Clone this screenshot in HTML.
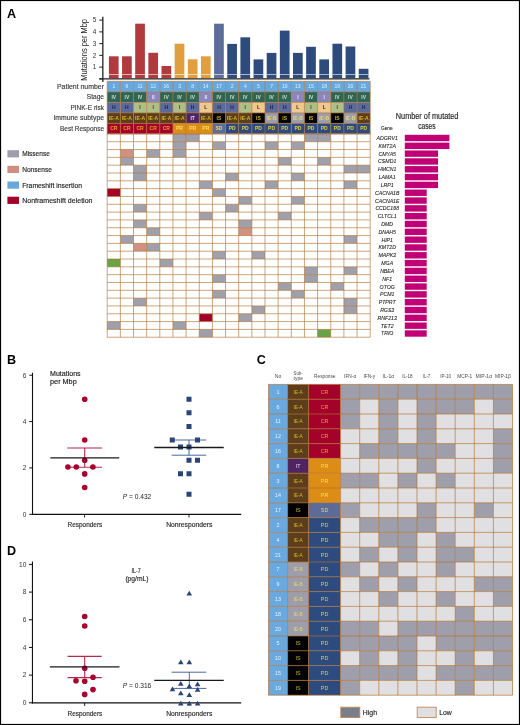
<!DOCTYPE html>
<html><head><meta charset="utf-8"><style>
html,body{margin:0;padding:0;background:#fff;}
#fig{position:relative;width:520px;height:725px;overflow:hidden;background:#fff;}
svg{display:block;will-change:transform;}
svg text{font-family:"Liberation Sans", sans-serif;}
</style></head><body><div id="fig">
<svg width="520" height="725" viewBox="0 0 520 725">
<rect x="0" y="0" width="520" height="725" fill="#fff"/>
<text x="7.00" y="17.80" font-size="12.6" fill="#000" text-anchor="start" font-weight="bold" >A</text>
<rect x="108.90" y="56.30" width="9.70" height="22.00" fill="#b03a3e" />
<rect x="122.05" y="56.30" width="9.70" height="22.00" fill="#b03a3e" />
<rect x="135.20" y="23.70" width="9.70" height="54.60" fill="#b03a3e" />
<rect x="148.35" y="52.80" width="9.70" height="25.50" fill="#b03a3e" />
<rect x="161.50" y="66.00" width="9.70" height="12.30" fill="#b03a3e" />
<rect x="174.65" y="43.70" width="9.70" height="34.60" fill="#e09e3e" />
<rect x="187.80" y="59.30" width="9.70" height="19.00" fill="#e09e3e" />
<rect x="200.95" y="56.30" width="9.70" height="22.00" fill="#e09e3e" />
<rect x="214.10" y="23.70" width="9.70" height="54.60" fill="#5d6c98" />
<rect x="227.25" y="43.90" width="9.70" height="34.40" fill="#2e4b7e" />
<rect x="240.40" y="37.30" width="9.70" height="41.00" fill="#2e4b7e" />
<rect x="253.55" y="59.40" width="9.70" height="18.90" fill="#2e4b7e" />
<rect x="266.70" y="52.90" width="9.70" height="25.40" fill="#2e4b7e" />
<rect x="279.85" y="30.60" width="9.70" height="47.70" fill="#2e4b7e" />
<rect x="293.00" y="52.90" width="9.70" height="25.40" fill="#2e4b7e" />
<rect x="306.15" y="46.80" width="9.70" height="31.50" fill="#2e4b7e" />
<rect x="319.30" y="59.40" width="9.70" height="18.90" fill="#2e4b7e" />
<rect x="332.45" y="43.70" width="9.70" height="34.60" fill="#2e4b7e" />
<rect x="345.60" y="46.50" width="9.70" height="31.80" fill="#2e4b7e" />
<rect x="358.75" y="68.80" width="9.70" height="9.50" fill="#2e4b7e" />
<rect x="108.90" y="74.20" width="9.70" height="0.80" fill="#ffffff" fill-opacity="0.75"/>
<rect x="122.05" y="74.20" width="9.70" height="0.80" fill="#ffffff" fill-opacity="0.75"/>
<rect x="135.20" y="74.20" width="9.70" height="0.80" fill="#ffffff" fill-opacity="0.75"/>
<rect x="148.35" y="74.20" width="9.70" height="0.80" fill="#ffffff" fill-opacity="0.75"/>
<rect x="161.50" y="74.20" width="9.70" height="0.80" fill="#ffffff" fill-opacity="0.75"/>
<rect x="174.65" y="74.20" width="9.70" height="0.80" fill="#ffffff" fill-opacity="0.75"/>
<rect x="187.80" y="74.20" width="9.70" height="0.80" fill="#ffffff" fill-opacity="0.75"/>
<rect x="200.95" y="74.20" width="9.70" height="0.80" fill="#ffffff" fill-opacity="0.75"/>
<rect x="214.10" y="74.20" width="9.70" height="0.80" fill="#ffffff" fill-opacity="0.75"/>
<rect x="227.25" y="74.20" width="9.70" height="0.80" fill="#ffffff" fill-opacity="0.75"/>
<rect x="240.40" y="74.20" width="9.70" height="0.80" fill="#ffffff" fill-opacity="0.75"/>
<rect x="253.55" y="74.20" width="9.70" height="0.80" fill="#ffffff" fill-opacity="0.75"/>
<rect x="266.70" y="74.20" width="9.70" height="0.80" fill="#ffffff" fill-opacity="0.75"/>
<rect x="279.85" y="74.20" width="9.70" height="0.80" fill="#ffffff" fill-opacity="0.75"/>
<rect x="293.00" y="74.20" width="9.70" height="0.80" fill="#ffffff" fill-opacity="0.75"/>
<rect x="306.15" y="74.20" width="9.70" height="0.80" fill="#ffffff" fill-opacity="0.75"/>
<rect x="319.30" y="74.20" width="9.70" height="0.80" fill="#ffffff" fill-opacity="0.75"/>
<rect x="332.45" y="74.20" width="9.70" height="0.80" fill="#ffffff" fill-opacity="0.75"/>
<rect x="345.60" y="74.20" width="9.70" height="0.80" fill="#ffffff" fill-opacity="0.75"/>
<rect x="358.75" y="74.20" width="9.70" height="0.80" fill="#ffffff" fill-opacity="0.75"/>
<line x1="102.85" y1="16.80" x2="102.85" y2="82.00" stroke="#111" stroke-width="1.2" />
<line x1="99.30" y1="78.80" x2="369.50" y2="78.80" stroke="#222" stroke-width="1.3" />
<line x1="99.30" y1="78.90" x2="103.00" y2="78.90" stroke="#222" stroke-width="1" />
<line x1="99.30" y1="67.14" x2="103.00" y2="67.14" stroke="#222" stroke-width="1" />
<text x="96.30" y="69.44" font-size="6.4" fill="#333" text-anchor="end" >1</text>
<line x1="99.30" y1="55.38" x2="103.00" y2="55.38" stroke="#222" stroke-width="1" />
<text x="96.30" y="57.68" font-size="6.4" fill="#333" text-anchor="end" >2</text>
<line x1="99.30" y1="43.62" x2="103.00" y2="43.62" stroke="#222" stroke-width="1" />
<text x="96.30" y="45.92" font-size="6.4" fill="#333" text-anchor="end" >3</text>
<line x1="99.30" y1="31.86" x2="103.00" y2="31.86" stroke="#222" stroke-width="1" />
<text x="96.30" y="34.16" font-size="6.4" fill="#333" text-anchor="end" >4</text>
<line x1="99.30" y1="20.10" x2="103.00" y2="20.10" stroke="#222" stroke-width="1" />
<text x="96.30" y="22.40" font-size="6.4" fill="#333" text-anchor="end" >5</text>
<text x="0" y="0" font-size="8.2" fill="#222" text-anchor="middle" textLength="61.7" lengthAdjust="spacingAndGlyphs" transform="translate(86.7,49.85) rotate(-90)">Mutations per Mbp</text>
<text x="104.00" y="88.60" font-size="7.0" fill="#3a3a3a" text-anchor="end" stroke="#3a3a3a" stroke-width="0.15" textLength="47.0" lengthAdjust="spacingAndGlyphs" >Patient number</text>
<text x="104.00" y="99.15" font-size="7.0" fill="#3a3a3a" text-anchor="end" stroke="#3a3a3a" stroke-width="0.15" textLength="17.2" lengthAdjust="spacingAndGlyphs" >Stage</text>
<text x="104.00" y="109.65" font-size="7.0" fill="#3a3a3a" text-anchor="end" stroke="#3a3a3a" stroke-width="0.15" textLength="33.6" lengthAdjust="spacingAndGlyphs" >PINK-E risk</text>
<text x="104.00" y="120.15" font-size="7.0" fill="#3a3a3a" text-anchor="end" stroke="#3a3a3a" stroke-width="0.15" textLength="50.6" lengthAdjust="spacingAndGlyphs" >Immune subtype</text>
<text x="104.00" y="130.65" font-size="7.0" fill="#3a3a3a" text-anchor="end" stroke="#3a3a3a" stroke-width="0.15" textLength="44.0" lengthAdjust="spacingAndGlyphs" >Best Response</text>
<rect x="107.20" y="81.30" width="13.15" height="10.60" fill="#67a8df" />
<text x="113.78" y="88.40" font-size="5.0" fill="#e0f0fc" text-anchor="middle" >1</text>
<rect x="120.35" y="81.30" width="13.15" height="10.60" fill="#67a8df" />
<text x="126.93" y="88.40" font-size="5.0" fill="#e0f0fc" text-anchor="middle" >6</text>
<rect x="133.50" y="81.30" width="13.15" height="10.60" fill="#67a8df" />
<text x="140.07" y="88.40" font-size="5.0" fill="#e0f0fc" text-anchor="middle" >11</text>
<rect x="146.65" y="81.30" width="13.15" height="10.60" fill="#67a8df" />
<text x="153.22" y="88.40" font-size="5.0" fill="#e0f0fc" text-anchor="middle" >12</text>
<rect x="159.80" y="81.30" width="13.15" height="10.60" fill="#67a8df" />
<text x="166.38" y="88.40" font-size="5.0" fill="#e0f0fc" text-anchor="middle" >16</text>
<rect x="172.95" y="81.30" width="13.15" height="10.60" fill="#67a8df" />
<text x="179.52" y="88.40" font-size="5.0" fill="#e0f0fc" text-anchor="middle" >3</text>
<rect x="186.10" y="81.30" width="13.15" height="10.60" fill="#67a8df" />
<text x="192.68" y="88.40" font-size="5.0" fill="#e0f0fc" text-anchor="middle" >8</text>
<rect x="199.25" y="81.30" width="13.15" height="10.60" fill="#67a8df" />
<text x="205.82" y="88.40" font-size="5.0" fill="#e0f0fc" text-anchor="middle" >14</text>
<rect x="212.40" y="81.30" width="13.15" height="10.60" fill="#67a8df" />
<text x="218.97" y="88.40" font-size="5.0" fill="#e0f0fc" text-anchor="middle" >17</text>
<rect x="225.55" y="81.30" width="13.15" height="10.60" fill="#67a8df" />
<text x="232.12" y="88.40" font-size="5.0" fill="#e0f0fc" text-anchor="middle" >2</text>
<rect x="238.70" y="81.30" width="13.15" height="10.60" fill="#67a8df" />
<text x="245.27" y="88.40" font-size="5.0" fill="#e0f0fc" text-anchor="middle" >4</text>
<rect x="251.85" y="81.30" width="13.15" height="10.60" fill="#67a8df" />
<text x="258.43" y="88.40" font-size="5.0" fill="#e0f0fc" text-anchor="middle" >5</text>
<rect x="265.00" y="81.30" width="13.15" height="10.60" fill="#67a8df" />
<text x="271.57" y="88.40" font-size="5.0" fill="#e0f0fc" text-anchor="middle" >7</text>
<rect x="278.15" y="81.30" width="13.15" height="10.60" fill="#67a8df" />
<text x="284.73" y="88.40" font-size="5.0" fill="#e0f0fc" text-anchor="middle" >10</text>
<rect x="291.30" y="81.30" width="13.15" height="10.60" fill="#67a8df" />
<text x="297.88" y="88.40" font-size="5.0" fill="#e0f0fc" text-anchor="middle" >13</text>
<rect x="304.45" y="81.30" width="13.15" height="10.60" fill="#67a8df" />
<text x="311.02" y="88.40" font-size="5.0" fill="#e0f0fc" text-anchor="middle" >15</text>
<rect x="317.60" y="81.30" width="13.15" height="10.60" fill="#67a8df" />
<text x="324.18" y="88.40" font-size="5.0" fill="#e0f0fc" text-anchor="middle" >18</text>
<rect x="330.75" y="81.30" width="13.15" height="10.60" fill="#67a8df" />
<text x="337.32" y="88.40" font-size="5.0" fill="#e0f0fc" text-anchor="middle" >19</text>
<rect x="343.90" y="81.30" width="13.15" height="10.60" fill="#67a8df" />
<text x="350.48" y="88.40" font-size="5.0" fill="#e0f0fc" text-anchor="middle" >20</text>
<rect x="357.05" y="81.30" width="13.15" height="10.60" fill="#67a8df" />
<text x="363.62" y="88.40" font-size="5.0" fill="#e0f0fc" text-anchor="middle" >21</text>
<rect x="107.20" y="91.90" width="13.15" height="10.50" fill="#2f6552" />
<text x="113.78" y="98.95" font-size="5.0" fill="#c8dccf" text-anchor="middle" font-weight="bold" >IV</text>
<rect x="120.35" y="91.90" width="13.15" height="10.50" fill="#2f6552" />
<text x="126.93" y="98.95" font-size="5.0" fill="#c8dccf" text-anchor="middle" font-weight="bold" >IV</text>
<rect x="133.50" y="91.90" width="13.15" height="10.50" fill="#2f6552" />
<text x="140.07" y="98.95" font-size="5.0" fill="#c8dccf" text-anchor="middle" font-weight="bold" >IV</text>
<rect x="146.65" y="91.90" width="13.15" height="10.50" fill="#8c86bc" />
<text x="153.22" y="98.95" font-size="5.0" fill="#e4defa" text-anchor="middle" font-weight="bold" >II</text>
<rect x="159.80" y="91.90" width="13.15" height="10.50" fill="#2f6552" />
<text x="166.38" y="98.95" font-size="5.0" fill="#c8dccf" text-anchor="middle" font-weight="bold" >IV</text>
<rect x="172.95" y="91.90" width="13.15" height="10.50" fill="#2f6552" />
<text x="179.52" y="98.95" font-size="5.0" fill="#c8dccf" text-anchor="middle" font-weight="bold" >IV</text>
<rect x="186.10" y="91.90" width="13.15" height="10.50" fill="#2f6552" />
<text x="192.68" y="98.95" font-size="5.0" fill="#c8dccf" text-anchor="middle" font-weight="bold" >IV</text>
<rect x="199.25" y="91.90" width="13.15" height="10.50" fill="#8c86bc" />
<text x="205.82" y="98.95" font-size="5.0" fill="#e4defa" text-anchor="middle" font-weight="bold" >II</text>
<rect x="212.40" y="91.90" width="13.15" height="10.50" fill="#2f6552" />
<text x="218.97" y="98.95" font-size="5.0" fill="#c8dccf" text-anchor="middle" font-weight="bold" >IV</text>
<rect x="225.55" y="91.90" width="13.15" height="10.50" fill="#2f6552" />
<text x="232.12" y="98.95" font-size="5.0" fill="#c8dccf" text-anchor="middle" font-weight="bold" >IV</text>
<rect x="238.70" y="91.90" width="13.15" height="10.50" fill="#2f6552" />
<text x="245.27" y="98.95" font-size="5.0" fill="#c8dccf" text-anchor="middle" font-weight="bold" >IV</text>
<rect x="251.85" y="91.90" width="13.15" height="10.50" fill="#2f6552" />
<text x="258.43" y="98.95" font-size="5.0" fill="#c8dccf" text-anchor="middle" font-weight="bold" >IV</text>
<rect x="265.00" y="91.90" width="13.15" height="10.50" fill="#2f6552" />
<text x="271.57" y="98.95" font-size="5.0" fill="#c8dccf" text-anchor="middle" font-weight="bold" >IV</text>
<rect x="278.15" y="91.90" width="13.15" height="10.50" fill="#2f6552" />
<text x="284.73" y="98.95" font-size="5.0" fill="#c8dccf" text-anchor="middle" font-weight="bold" >IV</text>
<rect x="291.30" y="91.90" width="13.15" height="10.50" fill="#8c86bc" />
<text x="297.88" y="98.95" font-size="5.0" fill="#e4defa" text-anchor="middle" font-weight="bold" >I</text>
<rect x="304.45" y="91.90" width="13.15" height="10.50" fill="#2f6552" />
<text x="311.02" y="98.95" font-size="5.0" fill="#c8dccf" text-anchor="middle" font-weight="bold" >IV</text>
<rect x="317.60" y="91.90" width="13.15" height="10.50" fill="#8c86bc" />
<text x="324.18" y="98.95" font-size="5.0" fill="#e4defa" text-anchor="middle" font-weight="bold" >I</text>
<rect x="330.75" y="91.90" width="13.15" height="10.50" fill="#2f6552" />
<text x="337.32" y="98.95" font-size="5.0" fill="#c8dccf" text-anchor="middle" font-weight="bold" >IV</text>
<rect x="343.90" y="91.90" width="13.15" height="10.50" fill="#2f6552" />
<text x="350.48" y="98.95" font-size="5.0" fill="#c8dccf" text-anchor="middle" font-weight="bold" >IV</text>
<rect x="357.05" y="91.90" width="13.15" height="10.50" fill="#2f6552" />
<text x="363.62" y="98.95" font-size="5.0" fill="#c8dccf" text-anchor="middle" font-weight="bold" >IV</text>
<rect x="107.20" y="102.40" width="13.15" height="10.50" fill="#5b6a9a" />
<text x="113.78" y="109.45" font-size="5.0" fill="#1c2448" text-anchor="middle" font-weight="bold" >H</text>
<rect x="120.35" y="102.40" width="13.15" height="10.50" fill="#5b6a9a" />
<text x="126.93" y="109.45" font-size="5.0" fill="#1c2448" text-anchor="middle" font-weight="bold" >H</text>
<rect x="133.50" y="102.40" width="13.15" height="10.50" fill="#afbd86" />
<text x="140.07" y="109.45" font-size="5.0" fill="#3c4530" text-anchor="middle" font-weight="bold" >I</text>
<rect x="146.65" y="102.40" width="13.15" height="10.50" fill="#afbd86" />
<text x="153.22" y="109.45" font-size="5.0" fill="#3c4530" text-anchor="middle" font-weight="bold" >I</text>
<rect x="159.80" y="102.40" width="13.15" height="10.50" fill="#5b6a9a" />
<text x="166.38" y="109.45" font-size="5.0" fill="#1c2448" text-anchor="middle" font-weight="bold" >H</text>
<rect x="172.95" y="102.40" width="13.15" height="10.50" fill="#afbd86" />
<text x="179.52" y="109.45" font-size="5.0" fill="#3c4530" text-anchor="middle" font-weight="bold" >I</text>
<rect x="186.10" y="102.40" width="13.15" height="10.50" fill="#5b6a9a" />
<text x="192.68" y="109.45" font-size="5.0" fill="#1c2448" text-anchor="middle" font-weight="bold" >H</text>
<rect x="199.25" y="102.40" width="13.15" height="10.50" fill="#eec88e" />
<text x="205.82" y="109.45" font-size="5.0" fill="#3c3020" text-anchor="middle" font-weight="bold" >L</text>
<rect x="212.40" y="102.40" width="13.15" height="10.50" fill="#5b6a9a" />
<text x="218.97" y="109.45" font-size="5.0" fill="#1c2448" text-anchor="middle" font-weight="bold" >H</text>
<rect x="225.55" y="102.40" width="13.15" height="10.50" fill="#5b6a9a" />
<text x="232.12" y="109.45" font-size="5.0" fill="#1c2448" text-anchor="middle" font-weight="bold" >H</text>
<rect x="238.70" y="102.40" width="13.15" height="10.50" fill="#afbd86" />
<text x="245.27" y="109.45" font-size="5.0" fill="#3c4530" text-anchor="middle" font-weight="bold" >I</text>
<rect x="251.85" y="102.40" width="13.15" height="10.50" fill="#eec88e" />
<text x="258.43" y="109.45" font-size="5.0" fill="#3c3020" text-anchor="middle" font-weight="bold" >L</text>
<rect x="265.00" y="102.40" width="13.15" height="10.50" fill="#5b6a9a" />
<text x="271.57" y="109.45" font-size="5.0" fill="#1c2448" text-anchor="middle" font-weight="bold" >H</text>
<rect x="278.15" y="102.40" width="13.15" height="10.50" fill="#5b6a9a" />
<text x="284.73" y="109.45" font-size="5.0" fill="#1c2448" text-anchor="middle" font-weight="bold" >H</text>
<rect x="291.30" y="102.40" width="13.15" height="10.50" fill="#eec88e" />
<text x="297.88" y="109.45" font-size="5.0" fill="#3c3020" text-anchor="middle" font-weight="bold" >L</text>
<rect x="304.45" y="102.40" width="13.15" height="10.50" fill="#afbd86" />
<text x="311.02" y="109.45" font-size="5.0" fill="#3c4530" text-anchor="middle" font-weight="bold" >I</text>
<rect x="317.60" y="102.40" width="13.15" height="10.50" fill="#eec88e" />
<text x="324.18" y="109.45" font-size="5.0" fill="#3c3020" text-anchor="middle" font-weight="bold" >L</text>
<rect x="330.75" y="102.40" width="13.15" height="10.50" fill="#afbd86" />
<text x="337.32" y="109.45" font-size="5.0" fill="#3c4530" text-anchor="middle" font-weight="bold" >I</text>
<rect x="343.90" y="102.40" width="13.15" height="10.50" fill="#5b6a9a" />
<text x="350.48" y="109.45" font-size="5.0" fill="#1c2448" text-anchor="middle" font-weight="bold" >H</text>
<rect x="357.05" y="102.40" width="13.15" height="10.50" fill="#5b6a9a" />
<text x="363.62" y="109.45" font-size="5.0" fill="#1c2448" text-anchor="middle" font-weight="bold" >H</text>
<rect x="107.20" y="112.90" width="13.15" height="10.50" fill="#5c3e1c" />
<text x="113.78" y="119.95" font-size="5.0" fill="#d8b420" text-anchor="middle" font-weight="bold" >IE-A</text>
<rect x="120.35" y="112.90" width="13.15" height="10.50" fill="#5c3e1c" />
<text x="126.93" y="119.95" font-size="5.0" fill="#d8b420" text-anchor="middle" font-weight="bold" >IE-A</text>
<rect x="133.50" y="112.90" width="13.15" height="10.50" fill="#5c3e1c" />
<text x="140.07" y="119.95" font-size="5.0" fill="#d8b420" text-anchor="middle" font-weight="bold" >IE-A</text>
<rect x="146.65" y="112.90" width="13.15" height="10.50" fill="#5c3e1c" />
<text x="153.22" y="119.95" font-size="5.0" fill="#d8b420" text-anchor="middle" font-weight="bold" >IE-A</text>
<rect x="159.80" y="112.90" width="13.15" height="10.50" fill="#5c3e1c" />
<text x="166.38" y="119.95" font-size="5.0" fill="#d8b420" text-anchor="middle" font-weight="bold" >IE-A</text>
<rect x="172.95" y="112.90" width="13.15" height="10.50" fill="#5c3e1c" />
<text x="179.52" y="119.95" font-size="5.0" fill="#d8b420" text-anchor="middle" font-weight="bold" >IE-A</text>
<rect x="186.10" y="112.90" width="13.15" height="10.50" fill="#4f2463" />
<text x="192.68" y="119.95" font-size="5.0" fill="#e8d0f0" text-anchor="middle" font-weight="bold" >IT</text>
<rect x="199.25" y="112.90" width="13.15" height="10.50" fill="#5c3e1c" />
<text x="205.82" y="119.95" font-size="5.0" fill="#d8b420" text-anchor="middle" font-weight="bold" >IE-A</text>
<rect x="212.40" y="112.90" width="13.15" height="10.50" fill="#030303" />
<text x="218.97" y="119.95" font-size="5.0" fill="#c8b420" text-anchor="middle" font-weight="bold" >IS</text>
<rect x="225.55" y="112.90" width="13.15" height="10.50" fill="#5c3e1c" />
<text x="232.12" y="119.95" font-size="5.0" fill="#d8b420" text-anchor="middle" font-weight="bold" >IE-A</text>
<rect x="238.70" y="112.90" width="13.15" height="10.50" fill="#5c3e1c" />
<text x="245.27" y="119.95" font-size="5.0" fill="#d8b420" text-anchor="middle" font-weight="bold" >IE-A</text>
<rect x="251.85" y="112.90" width="13.15" height="10.50" fill="#030303" />
<text x="258.43" y="119.95" font-size="5.0" fill="#c8b420" text-anchor="middle" font-weight="bold" >IS</text>
<rect x="265.00" y="112.90" width="13.15" height="10.50" fill="#9d9dab" />
<text x="271.57" y="119.95" font-size="5.0" fill="#e4d670" text-anchor="middle" font-weight="bold" >IE-B</text>
<rect x="278.15" y="112.90" width="13.15" height="10.50" fill="#030303" />
<text x="284.73" y="119.95" font-size="5.0" fill="#c8b420" text-anchor="middle" font-weight="bold" >IS</text>
<rect x="291.30" y="112.90" width="13.15" height="10.50" fill="#9d9dab" />
<text x="297.88" y="119.95" font-size="5.0" fill="#e4d670" text-anchor="middle" font-weight="bold" >IE-B</text>
<rect x="304.45" y="112.90" width="13.15" height="10.50" fill="#030303" />
<text x="311.02" y="119.95" font-size="5.0" fill="#c8b420" text-anchor="middle" font-weight="bold" >IS</text>
<rect x="317.60" y="112.90" width="13.15" height="10.50" fill="#9d9dab" />
<text x="324.18" y="119.95" font-size="5.0" fill="#e4d670" text-anchor="middle" font-weight="bold" >IE-B</text>
<rect x="330.75" y="112.90" width="13.15" height="10.50" fill="#030303" />
<text x="337.32" y="119.95" font-size="5.0" fill="#c8b420" text-anchor="middle" font-weight="bold" >IS</text>
<rect x="343.90" y="112.90" width="13.15" height="10.50" fill="#9d9dab" />
<text x="350.48" y="119.95" font-size="5.0" fill="#e4d670" text-anchor="middle" font-weight="bold" >IE-B</text>
<rect x="357.05" y="112.90" width="13.15" height="10.50" fill="#5c3e1c" />
<text x="363.62" y="119.95" font-size="5.0" fill="#d8b420" text-anchor="middle" font-weight="bold" >IE-A</text>
<rect x="107.20" y="123.40" width="13.15" height="10.50" fill="#a3022a" />
<text x="113.78" y="130.45" font-size="5.0" fill="#f0a020" text-anchor="middle" font-weight="bold" >CR</text>
<rect x="120.35" y="123.40" width="13.15" height="10.50" fill="#a3022a" />
<text x="126.93" y="130.45" font-size="5.0" fill="#f0a020" text-anchor="middle" font-weight="bold" >CR</text>
<rect x="133.50" y="123.40" width="13.15" height="10.50" fill="#a3022a" />
<text x="140.07" y="130.45" font-size="5.0" fill="#f0a020" text-anchor="middle" font-weight="bold" >CR</text>
<rect x="146.65" y="123.40" width="13.15" height="10.50" fill="#a3022a" />
<text x="153.22" y="130.45" font-size="5.0" fill="#f0a020" text-anchor="middle" font-weight="bold" >CR</text>
<rect x="159.80" y="123.40" width="13.15" height="10.50" fill="#a3022a" />
<text x="166.38" y="130.45" font-size="5.0" fill="#f0a020" text-anchor="middle" font-weight="bold" >CR</text>
<rect x="172.95" y="123.40" width="13.15" height="10.50" fill="#db8d16" />
<text x="179.52" y="130.45" font-size="5.0" fill="#fadc60" text-anchor="middle" font-weight="bold" >PR</text>
<rect x="186.10" y="123.40" width="13.15" height="10.50" fill="#db8d16" />
<text x="192.68" y="130.45" font-size="5.0" fill="#fadc60" text-anchor="middle" font-weight="bold" >PR</text>
<rect x="199.25" y="123.40" width="13.15" height="10.50" fill="#db8d16" />
<text x="205.82" y="130.45" font-size="5.0" fill="#fadc60" text-anchor="middle" font-weight="bold" >PR</text>
<rect x="212.40" y="123.40" width="13.15" height="10.50" fill="#5c6b97" />
<text x="218.97" y="130.45" font-size="5.0" fill="#ecd460" text-anchor="middle" font-weight="bold" >SD</text>
<rect x="225.55" y="123.40" width="13.15" height="10.50" fill="#2d4b7e" />
<text x="232.12" y="130.45" font-size="5.0" fill="#e4cc40" text-anchor="middle" font-weight="bold" >PD</text>
<rect x="238.70" y="123.40" width="13.15" height="10.50" fill="#2d4b7e" />
<text x="245.27" y="130.45" font-size="5.0" fill="#e4cc40" text-anchor="middle" font-weight="bold" >PD</text>
<rect x="251.85" y="123.40" width="13.15" height="10.50" fill="#2d4b7e" />
<text x="258.43" y="130.45" font-size="5.0" fill="#e4cc40" text-anchor="middle" font-weight="bold" >PD</text>
<rect x="265.00" y="123.40" width="13.15" height="10.50" fill="#2d4b7e" />
<text x="271.57" y="130.45" font-size="5.0" fill="#e4cc40" text-anchor="middle" font-weight="bold" >PD</text>
<rect x="278.15" y="123.40" width="13.15" height="10.50" fill="#2d4b7e" />
<text x="284.73" y="130.45" font-size="5.0" fill="#e4cc40" text-anchor="middle" font-weight="bold" >PD</text>
<rect x="291.30" y="123.40" width="13.15" height="10.50" fill="#2d4b7e" />
<text x="297.88" y="130.45" font-size="5.0" fill="#e4cc40" text-anchor="middle" font-weight="bold" >PD</text>
<rect x="304.45" y="123.40" width="13.15" height="10.50" fill="#2d4b7e" />
<text x="311.02" y="130.45" font-size="5.0" fill="#e4cc40" text-anchor="middle" font-weight="bold" >PD</text>
<rect x="317.60" y="123.40" width="13.15" height="10.50" fill="#2d4b7e" />
<text x="324.18" y="130.45" font-size="5.0" fill="#e4cc40" text-anchor="middle" font-weight="bold" >PD</text>
<rect x="330.75" y="123.40" width="13.15" height="10.50" fill="#2d4b7e" />
<text x="337.32" y="130.45" font-size="5.0" fill="#e4cc40" text-anchor="middle" font-weight="bold" >PD</text>
<rect x="343.90" y="123.40" width="13.15" height="10.50" fill="#2d4b7e" />
<text x="350.48" y="130.45" font-size="5.0" fill="#e4cc40" text-anchor="middle" font-weight="bold" >PD</text>
<rect x="357.05" y="123.40" width="13.15" height="10.50" fill="#2d4b7e" />
<text x="363.62" y="130.45" font-size="5.0" fill="#e4cc40" text-anchor="middle" font-weight="bold" >PD</text>
<rect x="107.20" y="133.90" width="263.00" height="203.32" fill="#ffffff" />
<rect x="172.95" y="133.90" width="13.15" height="7.82" fill="#9fa0ac" />
<rect x="186.10" y="133.90" width="13.15" height="7.82" fill="#9fa0ac" />
<rect x="304.45" y="133.90" width="13.15" height="7.82" fill="#9fa0ac" />
<rect x="317.60" y="133.90" width="13.15" height="7.82" fill="#9fa0ac" />
<rect x="172.95" y="141.72" width="13.15" height="7.82" fill="#9fa0ac" />
<rect x="212.40" y="141.72" width="13.15" height="7.82" fill="#9fa0ac" />
<rect x="265.00" y="141.72" width="13.15" height="7.82" fill="#9fa0ac" />
<rect x="291.30" y="141.72" width="13.15" height="7.82" fill="#9fa0ac" />
<rect x="120.35" y="149.54" width="13.15" height="7.82" fill="#d09082" />
<rect x="146.65" y="149.54" width="13.15" height="7.82" fill="#9fa0ac" />
<rect x="172.95" y="149.54" width="13.15" height="7.82" fill="#9fa0ac" />
<rect x="120.35" y="157.36" width="13.15" height="7.82" fill="#9fa0ac" />
<rect x="278.15" y="157.36" width="13.15" height="7.82" fill="#9fa0ac" />
<rect x="317.60" y="157.36" width="13.15" height="7.82" fill="#9fa0ac" />
<rect x="133.50" y="165.18" width="13.15" height="7.82" fill="#9fa0ac" />
<rect x="343.90" y="165.18" width="13.15" height="7.82" fill="#9fa0ac" />
<rect x="357.05" y="165.18" width="13.15" height="7.82" fill="#9fa0ac" />
<rect x="133.50" y="173.00" width="13.15" height="7.82" fill="#9fa0ac" />
<rect x="225.55" y="173.00" width="13.15" height="7.82" fill="#9fa0ac" />
<rect x="291.30" y="173.00" width="13.15" height="7.82" fill="#9fa0ac" />
<rect x="199.25" y="180.82" width="13.15" height="7.82" fill="#9fa0ac" />
<rect x="265.00" y="180.82" width="13.15" height="7.82" fill="#9fa0ac" />
<rect x="343.90" y="180.82" width="13.15" height="7.82" fill="#9fa0ac" />
<rect x="107.20" y="188.64" width="13.15" height="7.82" fill="#a3002a" />
<rect x="212.40" y="188.64" width="13.15" height="7.82" fill="#9fa0ac" />
<rect x="238.70" y="196.46" width="13.15" height="7.82" fill="#9fa0ac" />
<rect x="291.30" y="196.46" width="13.15" height="7.82" fill="#9fa0ac" />
<rect x="133.50" y="204.28" width="13.15" height="7.82" fill="#9fa0ac" />
<rect x="225.55" y="204.28" width="13.15" height="7.82" fill="#9fa0ac" />
<rect x="199.25" y="212.10" width="13.15" height="7.82" fill="#9fa0ac" />
<rect x="278.15" y="212.10" width="13.15" height="7.82" fill="#9fa0ac" />
<rect x="133.50" y="219.92" width="13.15" height="7.82" fill="#9fa0ac" />
<rect x="238.70" y="219.92" width="13.15" height="7.82" fill="#9fa0ac" />
<rect x="146.65" y="227.74" width="13.15" height="7.82" fill="#9fa0ac" />
<rect x="238.70" y="227.74" width="13.15" height="7.82" fill="#d09082" />
<rect x="120.35" y="235.56" width="13.15" height="7.82" fill="#9fa0ac" />
<rect x="343.90" y="235.56" width="13.15" height="7.82" fill="#9fa0ac" />
<rect x="133.50" y="243.38" width="13.15" height="7.82" fill="#d09082" />
<rect x="146.65" y="243.38" width="13.15" height="7.82" fill="#9fa0ac" />
<rect x="212.40" y="251.20" width="13.15" height="7.82" fill="#9fa0ac" />
<rect x="251.85" y="251.20" width="13.15" height="7.82" fill="#9fa0ac" />
<rect x="107.20" y="259.02" width="13.15" height="7.82" fill="#68a443" />
<rect x="159.80" y="259.02" width="13.15" height="7.82" fill="#9fa0ac" />
<rect x="304.45" y="266.84" width="13.15" height="7.82" fill="#9fa0ac" />
<rect x="343.90" y="266.84" width="13.15" height="7.82" fill="#9fa0ac" />
<rect x="212.40" y="274.66" width="13.15" height="7.82" fill="#9fa0ac" />
<rect x="304.45" y="274.66" width="13.15" height="7.82" fill="#9fa0ac" />
<rect x="278.15" y="282.48" width="13.15" height="7.82" fill="#9fa0ac" />
<rect x="330.75" y="282.48" width="13.15" height="7.82" fill="#9fa0ac" />
<rect x="212.40" y="290.30" width="13.15" height="7.82" fill="#9fa0ac" />
<rect x="291.30" y="290.30" width="13.15" height="7.82" fill="#9fa0ac" />
<rect x="133.50" y="298.12" width="13.15" height="7.82" fill="#9fa0ac" />
<rect x="343.90" y="298.12" width="13.15" height="7.82" fill="#9fa0ac" />
<rect x="251.85" y="305.94" width="13.15" height="7.82" fill="#9fa0ac" />
<rect x="343.90" y="305.94" width="13.15" height="7.82" fill="#9fa0ac" />
<rect x="199.25" y="313.76" width="13.15" height="7.82" fill="#a3002a" />
<rect x="238.70" y="313.76" width="13.15" height="7.82" fill="#9fa0ac" />
<rect x="107.20" y="321.58" width="13.15" height="7.82" fill="#9fa0ac" />
<rect x="172.95" y="321.58" width="13.15" height="7.82" fill="#9fa0ac" />
<rect x="199.25" y="329.40" width="13.15" height="7.82" fill="#9fa0ac" />
<rect x="317.60" y="329.40" width="13.15" height="7.82" fill="#68a443" />
<line x1="107.20" y1="81.30" x2="107.20" y2="337.22" stroke="rgba(178,118,55,0.72)" stroke-width="0.9" />
<line x1="120.35" y1="81.30" x2="120.35" y2="337.22" stroke="rgba(178,118,55,0.72)" stroke-width="0.9" />
<line x1="133.50" y1="81.30" x2="133.50" y2="337.22" stroke="rgba(178,118,55,0.72)" stroke-width="0.9" />
<line x1="146.65" y1="81.30" x2="146.65" y2="337.22" stroke="rgba(178,118,55,0.72)" stroke-width="0.9" />
<line x1="159.80" y1="81.30" x2="159.80" y2="337.22" stroke="rgba(178,118,55,0.72)" stroke-width="0.9" />
<line x1="172.95" y1="81.30" x2="172.95" y2="337.22" stroke="rgba(178,118,55,0.72)" stroke-width="0.9" />
<line x1="186.10" y1="81.30" x2="186.10" y2="337.22" stroke="rgba(178,118,55,0.72)" stroke-width="0.9" />
<line x1="199.25" y1="81.30" x2="199.25" y2="337.22" stroke="rgba(178,118,55,0.72)" stroke-width="0.9" />
<line x1="212.40" y1="81.30" x2="212.40" y2="337.22" stroke="rgba(178,118,55,0.72)" stroke-width="0.9" />
<line x1="225.55" y1="81.30" x2="225.55" y2="337.22" stroke="rgba(178,118,55,0.72)" stroke-width="0.9" />
<line x1="238.70" y1="81.30" x2="238.70" y2="337.22" stroke="rgba(178,118,55,0.72)" stroke-width="0.9" />
<line x1="251.85" y1="81.30" x2="251.85" y2="337.22" stroke="rgba(178,118,55,0.72)" stroke-width="0.9" />
<line x1="265.00" y1="81.30" x2="265.00" y2="337.22" stroke="rgba(178,118,55,0.72)" stroke-width="0.9" />
<line x1="278.15" y1="81.30" x2="278.15" y2="337.22" stroke="rgba(178,118,55,0.72)" stroke-width="0.9" />
<line x1="291.30" y1="81.30" x2="291.30" y2="337.22" stroke="rgba(178,118,55,0.72)" stroke-width="0.9" />
<line x1="304.45" y1="81.30" x2="304.45" y2="337.22" stroke="rgba(178,118,55,0.72)" stroke-width="0.9" />
<line x1="317.60" y1="81.30" x2="317.60" y2="337.22" stroke="rgba(178,118,55,0.72)" stroke-width="0.9" />
<line x1="330.75" y1="81.30" x2="330.75" y2="337.22" stroke="rgba(178,118,55,0.72)" stroke-width="0.9" />
<line x1="343.90" y1="81.30" x2="343.90" y2="337.22" stroke="rgba(178,118,55,0.72)" stroke-width="0.9" />
<line x1="357.05" y1="81.30" x2="357.05" y2="337.22" stroke="rgba(178,118,55,0.72)" stroke-width="0.9" />
<line x1="370.20" y1="81.30" x2="370.20" y2="337.22" stroke="rgba(178,118,55,0.72)" stroke-width="0.9" />
<line x1="107.20" y1="81.30" x2="370.20" y2="81.30" stroke="rgba(178,118,55,0.72)" stroke-width="0.9" />
<line x1="107.20" y1="91.90" x2="370.20" y2="91.90" stroke="rgba(178,118,55,0.72)" stroke-width="0.9" />
<line x1="107.20" y1="102.40" x2="370.20" y2="102.40" stroke="rgba(178,118,55,0.72)" stroke-width="0.9" />
<line x1="107.20" y1="112.90" x2="370.20" y2="112.90" stroke="rgba(178,118,55,0.72)" stroke-width="0.9" />
<line x1="107.20" y1="123.40" x2="370.20" y2="123.40" stroke="rgba(178,118,55,0.72)" stroke-width="0.9" />
<line x1="107.20" y1="133.90" x2="370.20" y2="133.90" stroke="rgba(178,118,55,0.72)" stroke-width="0.9" />
<line x1="107.20" y1="133.90" x2="370.20" y2="133.90" stroke="rgba(178,118,55,0.72)" stroke-width="0.9" />
<line x1="107.20" y1="141.72" x2="370.20" y2="141.72" stroke="rgba(178,118,55,0.72)" stroke-width="0.9" />
<line x1="107.20" y1="149.54" x2="370.20" y2="149.54" stroke="rgba(178,118,55,0.72)" stroke-width="0.9" />
<line x1="107.20" y1="157.36" x2="370.20" y2="157.36" stroke="rgba(178,118,55,0.72)" stroke-width="0.9" />
<line x1="107.20" y1="165.18" x2="370.20" y2="165.18" stroke="rgba(178,118,55,0.72)" stroke-width="0.9" />
<line x1="107.20" y1="173.00" x2="370.20" y2="173.00" stroke="rgba(178,118,55,0.72)" stroke-width="0.9" />
<line x1="107.20" y1="180.82" x2="370.20" y2="180.82" stroke="rgba(178,118,55,0.72)" stroke-width="0.9" />
<line x1="107.20" y1="188.64" x2="370.20" y2="188.64" stroke="rgba(178,118,55,0.72)" stroke-width="0.9" />
<line x1="107.20" y1="196.46" x2="370.20" y2="196.46" stroke="rgba(178,118,55,0.72)" stroke-width="0.9" />
<line x1="107.20" y1="204.28" x2="370.20" y2="204.28" stroke="rgba(178,118,55,0.72)" stroke-width="0.9" />
<line x1="107.20" y1="212.10" x2="370.20" y2="212.10" stroke="rgba(178,118,55,0.72)" stroke-width="0.9" />
<line x1="107.20" y1="219.92" x2="370.20" y2="219.92" stroke="rgba(178,118,55,0.72)" stroke-width="0.9" />
<line x1="107.20" y1="227.74" x2="370.20" y2="227.74" stroke="rgba(178,118,55,0.72)" stroke-width="0.9" />
<line x1="107.20" y1="235.56" x2="370.20" y2="235.56" stroke="rgba(178,118,55,0.72)" stroke-width="0.9" />
<line x1="107.20" y1="243.38" x2="370.20" y2="243.38" stroke="rgba(178,118,55,0.72)" stroke-width="0.9" />
<line x1="107.20" y1="251.20" x2="370.20" y2="251.20" stroke="rgba(178,118,55,0.72)" stroke-width="0.9" />
<line x1="107.20" y1="259.02" x2="370.20" y2="259.02" stroke="rgba(178,118,55,0.72)" stroke-width="0.9" />
<line x1="107.20" y1="266.84" x2="370.20" y2="266.84" stroke="rgba(178,118,55,0.72)" stroke-width="0.9" />
<line x1="107.20" y1="274.66" x2="370.20" y2="274.66" stroke="rgba(178,118,55,0.72)" stroke-width="0.9" />
<line x1="107.20" y1="282.48" x2="370.20" y2="282.48" stroke="rgba(178,118,55,0.72)" stroke-width="0.9" />
<line x1="107.20" y1="290.30" x2="370.20" y2="290.30" stroke="rgba(178,118,55,0.72)" stroke-width="0.9" />
<line x1="107.20" y1="298.12" x2="370.20" y2="298.12" stroke="rgba(178,118,55,0.72)" stroke-width="0.9" />
<line x1="107.20" y1="305.94" x2="370.20" y2="305.94" stroke="rgba(178,118,55,0.72)" stroke-width="0.9" />
<line x1="107.20" y1="313.76" x2="370.20" y2="313.76" stroke="rgba(178,118,55,0.72)" stroke-width="0.9" />
<line x1="107.20" y1="321.58" x2="370.20" y2="321.58" stroke="rgba(178,118,55,0.72)" stroke-width="0.9" />
<line x1="107.20" y1="329.40" x2="370.20" y2="329.40" stroke="rgba(178,118,55,0.72)" stroke-width="0.9" />
<line x1="107.20" y1="337.22" x2="370.20" y2="337.22" stroke="rgba(178,118,55,0.72)" stroke-width="0.9" />
<text x="387.20" y="139.96" font-size="5.2" fill="#1a1a1a" text-anchor="middle" stroke="#1a1a1a" stroke-width="0.08" font-style="italic" >ADGRV1</text>
<rect x="404.80" y="134.80" width="44.60" height="6.40" fill="#c20076" />
<text x="387.20" y="147.78" font-size="5.2" fill="#1a1a1a" text-anchor="middle" stroke="#1a1a1a" stroke-width="0.08" font-style="italic" >KMT2A</text>
<rect x="404.80" y="142.62" width="44.60" height="6.40" fill="#c20076" />
<text x="387.20" y="155.60" font-size="5.2" fill="#1a1a1a" text-anchor="middle" stroke="#1a1a1a" stroke-width="0.08" font-style="italic" >CMYA5</text>
<rect x="404.80" y="150.44" width="33.25" height="6.40" fill="#c20076" />
<text x="387.20" y="163.42" font-size="5.2" fill="#1a1a1a" text-anchor="middle" stroke="#1a1a1a" stroke-width="0.08" font-style="italic" >CSMD1</text>
<rect x="404.80" y="158.26" width="33.25" height="6.40" fill="#c20076" />
<text x="387.20" y="171.24" font-size="5.2" fill="#1a1a1a" text-anchor="middle" stroke="#1a1a1a" stroke-width="0.08" font-style="italic" >HMCN1</text>
<rect x="404.80" y="166.08" width="33.25" height="6.40" fill="#c20076" />
<text x="387.20" y="179.06" font-size="5.2" fill="#1a1a1a" text-anchor="middle" stroke="#1a1a1a" stroke-width="0.08" font-style="italic" >LAMA1</text>
<rect x="404.80" y="173.90" width="33.25" height="6.40" fill="#c20076" />
<text x="387.20" y="186.88" font-size="5.2" fill="#1a1a1a" text-anchor="middle" stroke="#1a1a1a" stroke-width="0.08" font-style="italic" >LRP1</text>
<rect x="404.80" y="181.72" width="33.25" height="6.40" fill="#c20076" />
<text x="387.20" y="194.70" font-size="5.2" fill="#1a1a1a" text-anchor="middle" stroke="#1a1a1a" stroke-width="0.08" font-style="italic" >CACNA1B</text>
<rect x="404.80" y="189.54" width="21.90" height="6.40" fill="#c20076" />
<text x="387.20" y="202.52" font-size="5.2" fill="#1a1a1a" text-anchor="middle" stroke="#1a1a1a" stroke-width="0.08" font-style="italic" >CACNA1E</text>
<rect x="404.80" y="197.36" width="21.90" height="6.40" fill="#c20076" />
<text x="387.20" y="210.34" font-size="5.2" fill="#1a1a1a" text-anchor="middle" stroke="#1a1a1a" stroke-width="0.08" font-style="italic" >CCDC168</text>
<rect x="404.80" y="205.18" width="21.90" height="6.40" fill="#c20076" />
<text x="387.20" y="218.16" font-size="5.2" fill="#1a1a1a" text-anchor="middle" stroke="#1a1a1a" stroke-width="0.08" font-style="italic" >CLTCL1</text>
<rect x="404.80" y="213.00" width="21.90" height="6.40" fill="#c20076" />
<text x="387.20" y="225.98" font-size="5.2" fill="#1a1a1a" text-anchor="middle" stroke="#1a1a1a" stroke-width="0.08" font-style="italic" >DMD</text>
<rect x="404.80" y="220.82" width="21.90" height="6.40" fill="#c20076" />
<text x="387.20" y="233.80" font-size="5.2" fill="#1a1a1a" text-anchor="middle" stroke="#1a1a1a" stroke-width="0.08" font-style="italic" >DNAH5</text>
<rect x="404.80" y="228.64" width="21.90" height="6.40" fill="#c20076" />
<text x="387.20" y="241.62" font-size="5.2" fill="#1a1a1a" text-anchor="middle" stroke="#1a1a1a" stroke-width="0.08" font-style="italic" >HIP1</text>
<rect x="404.80" y="236.46" width="21.90" height="6.40" fill="#c20076" />
<text x="387.20" y="249.44" font-size="5.2" fill="#1a1a1a" text-anchor="middle" stroke="#1a1a1a" stroke-width="0.08" font-style="italic" >KMT2D</text>
<rect x="404.80" y="244.28" width="21.90" height="6.40" fill="#c20076" />
<text x="387.20" y="257.26" font-size="5.2" fill="#1a1a1a" text-anchor="middle" stroke="#1a1a1a" stroke-width="0.08" font-style="italic" >MAPK3</text>
<rect x="404.80" y="252.10" width="21.90" height="6.40" fill="#c20076" />
<text x="387.20" y="265.08" font-size="5.2" fill="#1a1a1a" text-anchor="middle" stroke="#1a1a1a" stroke-width="0.08" font-style="italic" >MGA</text>
<rect x="404.80" y="259.92" width="21.90" height="6.40" fill="#c20076" />
<text x="387.20" y="272.90" font-size="5.2" fill="#1a1a1a" text-anchor="middle" stroke="#1a1a1a" stroke-width="0.08" font-style="italic" >NBEA</text>
<rect x="404.80" y="267.74" width="21.90" height="6.40" fill="#c20076" />
<text x="387.20" y="280.72" font-size="5.2" fill="#1a1a1a" text-anchor="middle" stroke="#1a1a1a" stroke-width="0.08" font-style="italic" >NF1</text>
<rect x="404.80" y="275.56" width="21.90" height="6.40" fill="#c20076" />
<text x="387.20" y="288.54" font-size="5.2" fill="#1a1a1a" text-anchor="middle" stroke="#1a1a1a" stroke-width="0.08" font-style="italic" >OTOG</text>
<rect x="404.80" y="283.38" width="21.90" height="6.40" fill="#c20076" />
<text x="387.20" y="296.36" font-size="5.2" fill="#1a1a1a" text-anchor="middle" stroke="#1a1a1a" stroke-width="0.08" font-style="italic" >PCM1</text>
<rect x="404.80" y="291.20" width="21.90" height="6.40" fill="#c20076" />
<text x="387.20" y="304.18" font-size="5.2" fill="#1a1a1a" text-anchor="middle" stroke="#1a1a1a" stroke-width="0.08" font-style="italic" >PTPRT</text>
<rect x="404.80" y="299.02" width="21.90" height="6.40" fill="#c20076" />
<text x="387.20" y="312.00" font-size="5.2" fill="#1a1a1a" text-anchor="middle" stroke="#1a1a1a" stroke-width="0.08" font-style="italic" >RGS3</text>
<rect x="404.80" y="306.84" width="21.90" height="6.40" fill="#c20076" />
<text x="387.20" y="319.82" font-size="5.2" fill="#1a1a1a" text-anchor="middle" stroke="#1a1a1a" stroke-width="0.08" font-style="italic" >RNF213</text>
<rect x="404.80" y="314.66" width="21.90" height="6.40" fill="#c20076" />
<text x="387.20" y="327.64" font-size="5.2" fill="#1a1a1a" text-anchor="middle" stroke="#1a1a1a" stroke-width="0.08" font-style="italic" >TET2</text>
<rect x="404.80" y="322.48" width="21.90" height="6.40" fill="#c20076" />
<text x="387.20" y="335.46" font-size="5.2" fill="#1a1a1a" text-anchor="middle" stroke="#1a1a1a" stroke-width="0.08" font-style="italic" >TRIO</text>
<rect x="404.80" y="330.30" width="21.90" height="6.40" fill="#c20076" />
<text x="380.90" y="130.20" font-size="5.6" fill="#222" text-anchor="start" stroke="#222" stroke-width="0.1" textLength="11.8" lengthAdjust="spacingAndGlyphs" >Gene</text>
<text x="395.80" y="118.80" font-size="8.9" fill="#222" text-anchor="start" stroke="#222" stroke-width="0.15" textLength="62.6" lengthAdjust="spacingAndGlyphs" >Number of mutated</text>
<text x="418.30" y="129.20" font-size="8.9" fill="#222" text-anchor="start" stroke="#222" stroke-width="0.15" textLength="17.3" lengthAdjust="spacingAndGlyphs" >cases</text>
<rect x="7.40" y="150.20" width="11.60" height="7.20" fill="#9d9dab" />
<text x="22.20" y="156.30" font-size="7.3" fill="#222" text-anchor="start" stroke="#222" stroke-width="0.15" textLength="27.6" lengthAdjust="spacingAndGlyphs" >Missense</text>
<rect x="7.40" y="165.80" width="11.60" height="7.20" fill="#d08e80" />
<text x="22.20" y="171.90" font-size="7.3" fill="#222" text-anchor="start" stroke="#222" stroke-width="0.15" textLength="29.7" lengthAdjust="spacingAndGlyphs" >Nonsense</text>
<rect x="7.40" y="181.50" width="11.60" height="7.20" fill="#68a8dc" />
<text x="22.20" y="187.60" font-size="7.3" fill="#222" text-anchor="start" stroke="#222" stroke-width="0.15" textLength="59.8" lengthAdjust="spacingAndGlyphs" >Frameshift insertion</text>
<rect x="7.40" y="196.70" width="11.60" height="7.20" fill="#a3002a" />
<text x="22.20" y="202.80" font-size="7.3" fill="#222" text-anchor="start" stroke="#222" stroke-width="0.15" textLength="70.3" lengthAdjust="spacingAndGlyphs" >Nonframeshift deletion</text>
<text x="7.00" y="363.80" font-size="12.6" fill="#000" text-anchor="start" font-weight="bold" >B</text>
<line x1="32.50" y1="372.80" x2="32.50" y2="515.00" stroke="#111" stroke-width="1.1" />
<line x1="32.00" y1="514.30" x2="241.20" y2="514.30" stroke="#111" stroke-width="1.2" />
<line x1="29.30" y1="514.30" x2="32.50" y2="514.30" stroke="#111" stroke-width="1" />
<text x="26.40" y="516.60" font-size="6.5" fill="#333" text-anchor="end" >0</text>
<line x1="29.30" y1="467.94" x2="32.50" y2="467.94" stroke="#111" stroke-width="1" />
<text x="26.40" y="470.24" font-size="6.5" fill="#333" text-anchor="end" >2</text>
<line x1="29.30" y1="421.58" x2="32.50" y2="421.58" stroke="#111" stroke-width="1" />
<text x="26.40" y="423.88" font-size="6.5" fill="#333" text-anchor="end" >4</text>
<line x1="29.30" y1="375.22" x2="32.50" y2="375.22" stroke="#111" stroke-width="1" />
<text x="26.40" y="377.52" font-size="6.5" fill="#333" text-anchor="end" >6</text>
<line x1="84.50" y1="514.30" x2="84.50" y2="517.50" stroke="#111" stroke-width="0.9" />
<line x1="189.00" y1="514.30" x2="189.00" y2="517.50" stroke="#111" stroke-width="0.9" />
<text x="84.90" y="526.50" font-size="6.6" fill="#2a2a2a" text-anchor="middle" stroke="#2a2a2a" stroke-width="0.15" textLength="34.8" lengthAdjust="spacingAndGlyphs" >Responders</text>
<text x="189.30" y="526.50" font-size="6.6" fill="#2a2a2a" text-anchor="middle" stroke="#2a2a2a" stroke-width="0.15" textLength="46.2" lengthAdjust="spacingAndGlyphs" >Nonresponders</text>
<text x="50.10" y="376.20" font-size="6.5" fill="#222" text-anchor="start" stroke="#222" stroke-width="0.15" textLength="30.5" lengthAdjust="spacingAndGlyphs" >Mutations</text>
<text x="50.10" y="384.00" font-size="6.5" fill="#222" text-anchor="start" stroke="#222" stroke-width="0.15" textLength="26.6" lengthAdjust="spacingAndGlyphs" >per Mbp</text>
<text x="122.7" y="498.9" font-size="6.6" fill="#222" textLength="28.6" lengthAdjust="spacingAndGlyphs"><tspan font-style="italic">P</tspan> = 0.432</text>
<line x1="67.20" y1="448.00" x2="102.00" y2="448.00" stroke="#b8284a" stroke-width="1.1" />
<line x1="67.20" y1="467.20" x2="102.00" y2="467.20" stroke="#b8284a" stroke-width="1.1" />
<line x1="84.70" y1="448.00" x2="84.70" y2="467.20" stroke="#b8284a" stroke-width="1.1" />
<circle cx="84.7" cy="399.3" r="2.8" fill="#a8002c"/>
<circle cx="84.7" cy="440" r="2.8" fill="#a8002c"/>
<circle cx="84.7" cy="460.2" r="2.8" fill="#a8002c"/>
<circle cx="67.9" cy="467" r="2.8" fill="#a8002c"/>
<circle cx="76.3" cy="467" r="2.8" fill="#a8002c"/>
<circle cx="92.9" cy="467" r="2.8" fill="#a8002c"/>
<circle cx="84.7" cy="473.9" r="2.8" fill="#a8002c"/>
<circle cx="84.7" cy="487.5" r="2.8" fill="#a8002c"/>
<line x1="50.40" y1="457.80" x2="119.20" y2="457.80" stroke="#1a1a1a" stroke-width="1.3" />
<line x1="173.20" y1="440.00" x2="206.20" y2="440.00" stroke="#4a68a8" stroke-width="1.0" />
<line x1="171.70" y1="455.20" x2="206.20" y2="455.20" stroke="#4a68a8" stroke-width="1.0" />
<line x1="189.00" y1="440.00" x2="189.00" y2="455.20" stroke="#4a68a8" stroke-width="1.0" />
<rect x="186.50" y="396.75" width="5.00" height="5.00" fill="#284479" />
<rect x="186.50" y="410.25" width="5.00" height="5.00" fill="#284479" />
<rect x="186.50" y="424.00" width="5.00" height="5.00" fill="#284479" />
<rect x="169.75" y="437.50" width="5.00" height="5.00" fill="#284479" />
<rect x="195.00" y="437.50" width="5.00" height="5.00" fill="#284479" />
<rect x="178.00" y="444.50" width="5.00" height="5.00" fill="#284479" />
<rect x="186.50" y="444.50" width="5.00" height="5.00" fill="#284479" />
<rect x="186.50" y="457.75" width="5.00" height="5.00" fill="#284479" />
<rect x="195.00" y="457.75" width="5.00" height="5.00" fill="#284479" />
<rect x="178.00" y="471.25" width="5.00" height="5.00" fill="#284479" />
<rect x="186.50" y="471.25" width="5.00" height="5.00" fill="#284479" />
<rect x="186.50" y="491.75" width="5.00" height="5.00" fill="#284479" />
<line x1="154.25" y1="447.50" x2="223.75" y2="447.50" stroke="#1a1a1a" stroke-width="1.3" />
<text x="7.00" y="554.60" font-size="12.6" fill="#000" text-anchor="start" font-weight="bold" >D</text>
<line x1="32.45" y1="561.60" x2="32.45" y2="703.50" stroke="#111" stroke-width="1.1" />
<line x1="31.70" y1="702.80" x2="241.20" y2="702.80" stroke="#111" stroke-width="1.2" />
<line x1="29.00" y1="702.80" x2="32.20" y2="702.80" stroke="#111" stroke-width="1" />
<text x="26.30" y="705.00" font-size="6.5" fill="#333" text-anchor="end" >0</text>
<line x1="29.00" y1="675.12" x2="32.20" y2="675.12" stroke="#111" stroke-width="1" />
<text x="26.30" y="677.32" font-size="6.5" fill="#333" text-anchor="end" >2</text>
<line x1="29.00" y1="647.44" x2="32.20" y2="647.44" stroke="#111" stroke-width="1" />
<text x="26.30" y="649.64" font-size="6.5" fill="#333" text-anchor="end" >4</text>
<line x1="29.00" y1="619.76" x2="32.20" y2="619.76" stroke="#111" stroke-width="1" />
<text x="26.30" y="621.96" font-size="6.5" fill="#333" text-anchor="end" >6</text>
<line x1="29.00" y1="592.08" x2="32.20" y2="592.08" stroke="#111" stroke-width="1" />
<text x="26.30" y="594.28" font-size="6.5" fill="#333" text-anchor="end" >8</text>
<line x1="29.00" y1="564.40" x2="32.20" y2="564.40" stroke="#111" stroke-width="1" />
<text x="26.30" y="566.60" font-size="6.5" fill="#333" text-anchor="end" >10</text>
<line x1="84.70" y1="702.80" x2="84.70" y2="706.00" stroke="#111" stroke-width="0.9" />
<line x1="189.00" y1="702.80" x2="189.00" y2="706.00" stroke="#111" stroke-width="0.9" />
<text x="84.90" y="715.50" font-size="6.6" fill="#2a2a2a" text-anchor="middle" stroke="#2a2a2a" stroke-width="0.15" textLength="34.8" lengthAdjust="spacingAndGlyphs" >Responders</text>
<text x="189.30" y="715.50" font-size="6.6" fill="#2a2a2a" text-anchor="middle" stroke="#2a2a2a" stroke-width="0.15" textLength="46.2" lengthAdjust="spacingAndGlyphs" >Nonresponders</text>
<text x="136.20" y="572.80" font-size="6.5" fill="#2a2a2a" text-anchor="middle" stroke="#2a2a2a" stroke-width="0.15" textLength="9.2" lengthAdjust="spacingAndGlyphs" >IL-7</text>
<text x="136.90" y="580.70" font-size="6.5" fill="#2a2a2a" text-anchor="middle" stroke="#2a2a2a" stroke-width="0.15" textLength="23.0" lengthAdjust="spacingAndGlyphs" >(pg/mL)</text>
<text x="122.7" y="688.0" font-size="6.6" fill="#222" textLength="28.6" lengthAdjust="spacingAndGlyphs"><tspan font-style="italic">P</tspan> = 0.316</text>
<line x1="67.60" y1="656.40" x2="101.70" y2="656.40" stroke="#b8284a" stroke-width="1.1" />
<line x1="67.60" y1="677.60" x2="101.70" y2="677.60" stroke="#b8284a" stroke-width="1.1" />
<line x1="84.70" y1="656.40" x2="84.70" y2="677.60" stroke="#b8284a" stroke-width="1.1" />
<circle cx="84.7" cy="616.5" r="2.8" fill="#a8002c"/>
<circle cx="84.7" cy="626" r="2.8" fill="#a8002c"/>
<circle cx="84.7" cy="668.2" r="2.8" fill="#a8002c"/>
<circle cx="76" cy="680.7" r="2.8" fill="#a8002c"/>
<circle cx="84.7" cy="681.3" r="2.8" fill="#a8002c"/>
<circle cx="93" cy="677.3" r="2.8" fill="#a8002c"/>
<circle cx="93" cy="689.6" r="2.8" fill="#a8002c"/>
<circle cx="84.7" cy="694.4" r="2.8" fill="#a8002c"/>
<line x1="49.80" y1="666.80" x2="119.50" y2="666.80" stroke="#1a1a1a" stroke-width="1.3" />
<line x1="171.60" y1="672.20" x2="206.30" y2="672.20" stroke="#4a68a8" stroke-width="1.0" />
<line x1="171.60" y1="688.40" x2="206.30" y2="688.40" stroke="#4a68a8" stroke-width="1.0" />
<line x1="189.30" y1="672.20" x2="189.30" y2="688.40" stroke="#4a68a8" stroke-width="1.0" />
<line x1="154.25" y1="680.40" x2="223.75" y2="680.40" stroke="#1a1a1a" stroke-width="1.3" />
<path d="M189.25,590.75 L192.05,595.55 L186.45,595.55 Z" fill="#284479"/>
<path d="M180.80,659.50 L183.60,664.30 L178.00,664.30 Z" fill="#284479"/>
<path d="M189.30,659.50 L192.10,664.30 L186.50,664.30 Z" fill="#284479"/>
<path d="M180.80,680.90 L183.60,685.70 L178.00,685.70 Z" fill="#284479"/>
<path d="M189.30,683.50 L192.10,688.30 L186.50,688.30 Z" fill="#284479"/>
<path d="M197.60,681.40 L200.40,686.20 L194.80,686.20 Z" fill="#284479"/>
<path d="M172.50,686.40 L175.30,691.20 L169.70,691.20 Z" fill="#284479"/>
<path d="M197.60,687.00 L200.40,691.80 L194.80,691.80 Z" fill="#284479"/>
<path d="M180.80,690.40 L183.60,695.20 L178.00,695.20 Z" fill="#284479"/>
<path d="M189.30,692.30 L192.10,697.10 L186.50,697.10 Z" fill="#284479"/>
<path d="M180.80,700.70 L183.60,705.50 L178.00,705.50 Z" fill="#284479"/>
<path d="M189.30,700.70 L192.10,705.50 L186.50,705.50 Z" fill="#284479"/>
<path d="M197.60,700.70 L200.40,705.50 L194.80,705.50 Z" fill="#284479"/>
<text x="256.70" y="363.80" font-size="12.6" fill="#000" text-anchor="start" font-weight="bold" >C</text>
<rect x="268.50" y="384.40" width="19.10" height="14.80" fill="#6aa9df" />
<text x="278.05" y="393.70" font-size="5.3" fill="#e6f2fc" text-anchor="middle" >1</text>
<rect x="287.60" y="384.40" width="21.00" height="14.80" fill="#5c3e1c" />
<text x="298.10" y="393.70" font-size="5.3" fill="#d8b420" text-anchor="middle" textLength="9.4" lengthAdjust="spacingAndGlyphs" >IE-A</text>
<rect x="308.60" y="384.40" width="32.00" height="14.80" fill="#a3022a" />
<text x="324.60" y="393.70" font-size="5.4" fill="#f0a020" text-anchor="middle" >CR</text>
<rect x="340.60" y="384.40" width="19.10" height="14.80" fill="#9f9fab" />
<rect x="359.70" y="384.40" width="19.10" height="14.80" fill="#9f9fab" />
<rect x="378.80" y="384.40" width="19.10" height="14.80" fill="#9f9fab" />
<rect x="397.90" y="384.40" width="19.10" height="14.80" fill="#9f9fab" />
<rect x="417.00" y="384.40" width="19.10" height="14.80" fill="#9f9fab" />
<rect x="436.10" y="384.40" width="19.10" height="14.80" fill="#9f9fab" />
<rect x="455.20" y="384.40" width="19.10" height="14.80" fill="#9f9fab" />
<rect x="474.30" y="384.40" width="19.10" height="14.80" fill="#9f9fab" />
<rect x="493.40" y="384.40" width="19.10" height="14.80" fill="#9f9fab" />
<rect x="268.50" y="399.20" width="19.10" height="14.80" fill="#6aa9df" />
<text x="278.05" y="408.50" font-size="5.3" fill="#e6f2fc" text-anchor="middle" >6</text>
<rect x="287.60" y="399.20" width="21.00" height="14.80" fill="#5c3e1c" />
<text x="298.10" y="408.50" font-size="5.3" fill="#d8b420" text-anchor="middle" textLength="9.4" lengthAdjust="spacingAndGlyphs" >IE-A</text>
<rect x="308.60" y="399.20" width="32.00" height="14.80" fill="#a3022a" />
<text x="324.60" y="408.50" font-size="5.4" fill="#f0a020" text-anchor="middle" >CR</text>
<rect x="340.60" y="399.20" width="19.10" height="14.80" fill="#9f9fab" />
<rect x="359.70" y="399.20" width="19.10" height="14.80" fill="#e0e0e2" />
<rect x="378.80" y="399.20" width="19.10" height="14.80" fill="#9f9fab" />
<rect x="397.90" y="399.20" width="19.10" height="14.80" fill="#e0e0e2" />
<rect x="417.00" y="399.20" width="19.10" height="14.80" fill="#9f9fab" />
<rect x="436.10" y="399.20" width="19.10" height="14.80" fill="#9f9fab" />
<rect x="455.20" y="399.20" width="19.10" height="14.80" fill="#9f9fab" />
<rect x="474.30" y="399.20" width="19.10" height="14.80" fill="#e0e0e2" />
<rect x="493.40" y="399.20" width="19.10" height="14.80" fill="#9f9fab" />
<rect x="268.50" y="414.00" width="19.10" height="14.80" fill="#6aa9df" />
<text x="278.05" y="423.30" font-size="5.3" fill="#e6f2fc" text-anchor="middle" >11</text>
<rect x="287.60" y="414.00" width="21.00" height="14.80" fill="#5c3e1c" />
<text x="298.10" y="423.30" font-size="5.3" fill="#d8b420" text-anchor="middle" textLength="9.4" lengthAdjust="spacingAndGlyphs" >IE-A</text>
<rect x="308.60" y="414.00" width="32.00" height="14.80" fill="#a3022a" />
<text x="324.60" y="423.30" font-size="5.4" fill="#f0a020" text-anchor="middle" >CR</text>
<rect x="340.60" y="414.00" width="19.10" height="14.80" fill="#9f9fab" />
<rect x="359.70" y="414.00" width="19.10" height="14.80" fill="#e0e0e2" />
<rect x="378.80" y="414.00" width="19.10" height="14.80" fill="#9f9fab" />
<rect x="397.90" y="414.00" width="19.10" height="14.80" fill="#e0e0e2" />
<rect x="417.00" y="414.00" width="19.10" height="14.80" fill="#9f9fab" />
<rect x="436.10" y="414.00" width="19.10" height="14.80" fill="#e0e0e2" />
<rect x="455.20" y="414.00" width="19.10" height="14.80" fill="#e0e0e2" />
<rect x="474.30" y="414.00" width="19.10" height="14.80" fill="#e0e0e2" />
<rect x="493.40" y="414.00" width="19.10" height="14.80" fill="#e0e0e2" />
<rect x="268.50" y="428.80" width="19.10" height="14.80" fill="#6aa9df" />
<text x="278.05" y="438.10" font-size="5.3" fill="#e6f2fc" text-anchor="middle" >12</text>
<rect x="287.60" y="428.80" width="21.00" height="14.80" fill="#5c3e1c" />
<text x="298.10" y="438.10" font-size="5.3" fill="#d8b420" text-anchor="middle" textLength="9.4" lengthAdjust="spacingAndGlyphs" >IE-A</text>
<rect x="308.60" y="428.80" width="32.00" height="14.80" fill="#a3022a" />
<text x="324.60" y="438.10" font-size="5.4" fill="#f0a020" text-anchor="middle" >CR</text>
<rect x="340.60" y="428.80" width="19.10" height="14.80" fill="#e0e0e2" />
<rect x="359.70" y="428.80" width="19.10" height="14.80" fill="#e0e0e2" />
<rect x="378.80" y="428.80" width="19.10" height="14.80" fill="#9f9fab" />
<rect x="397.90" y="428.80" width="19.10" height="14.80" fill="#e0e0e2" />
<rect x="417.00" y="428.80" width="19.10" height="14.80" fill="#9f9fab" />
<rect x="436.10" y="428.80" width="19.10" height="14.80" fill="#e0e0e2" />
<rect x="455.20" y="428.80" width="19.10" height="14.80" fill="#e0e0e2" />
<rect x="474.30" y="428.80" width="19.10" height="14.80" fill="#e0e0e2" />
<rect x="493.40" y="428.80" width="19.10" height="14.80" fill="#9f9fab" />
<rect x="268.50" y="443.60" width="19.10" height="14.80" fill="#6aa9df" />
<text x="278.05" y="452.90" font-size="5.3" fill="#e6f2fc" text-anchor="middle" >16</text>
<rect x="287.60" y="443.60" width="21.00" height="14.80" fill="#5c3e1c" />
<text x="298.10" y="452.90" font-size="5.3" fill="#d8b420" text-anchor="middle" textLength="9.4" lengthAdjust="spacingAndGlyphs" >IE-A</text>
<rect x="308.60" y="443.60" width="32.00" height="14.80" fill="#a3022a" />
<text x="324.60" y="452.90" font-size="5.4" fill="#f0a020" text-anchor="middle" >CR</text>
<rect x="340.60" y="443.60" width="19.10" height="14.80" fill="#e0e0e2" />
<rect x="359.70" y="443.60" width="19.10" height="14.80" fill="#9f9fab" />
<rect x="378.80" y="443.60" width="19.10" height="14.80" fill="#9f9fab" />
<rect x="397.90" y="443.60" width="19.10" height="14.80" fill="#9f9fab" />
<rect x="417.00" y="443.60" width="19.10" height="14.80" fill="#9f9fab" />
<rect x="436.10" y="443.60" width="19.10" height="14.80" fill="#9f9fab" />
<rect x="455.20" y="443.60" width="19.10" height="14.80" fill="#e0e0e2" />
<rect x="474.30" y="443.60" width="19.10" height="14.80" fill="#e0e0e2" />
<rect x="493.40" y="443.60" width="19.10" height="14.80" fill="#9f9fab" />
<rect x="268.50" y="458.40" width="19.10" height="14.80" fill="#6aa9df" />
<text x="278.05" y="467.70" font-size="5.3" fill="#e6f2fc" text-anchor="middle" >8</text>
<rect x="287.60" y="458.40" width="21.00" height="14.80" fill="#4f2463" />
<text x="298.10" y="467.70" font-size="5.3" fill="#e8d0f0" text-anchor="middle" >IT</text>
<rect x="308.60" y="458.40" width="32.00" height="14.80" fill="#db8d16" />
<text x="324.60" y="467.70" font-size="5.4" fill="#fadc60" text-anchor="middle" >PR</text>
<rect x="340.60" y="458.40" width="19.10" height="14.80" fill="#e0e0e2" />
<rect x="359.70" y="458.40" width="19.10" height="14.80" fill="#e0e0e2" />
<rect x="378.80" y="458.40" width="19.10" height="14.80" fill="#e0e0e2" />
<rect x="397.90" y="458.40" width="19.10" height="14.80" fill="#e0e0e2" />
<rect x="417.00" y="458.40" width="19.10" height="14.80" fill="#9f9fab" />
<rect x="436.10" y="458.40" width="19.10" height="14.80" fill="#e0e0e2" />
<rect x="455.20" y="458.40" width="19.10" height="14.80" fill="#e0e0e2" />
<rect x="474.30" y="458.40" width="19.10" height="14.80" fill="#e0e0e2" />
<rect x="493.40" y="458.40" width="19.10" height="14.80" fill="#9f9fab" />
<rect x="268.50" y="473.20" width="19.10" height="14.80" fill="#6aa9df" />
<text x="278.05" y="482.50" font-size="5.3" fill="#e6f2fc" text-anchor="middle" >3</text>
<rect x="287.60" y="473.20" width="21.00" height="14.80" fill="#5c3e1c" />
<text x="298.10" y="482.50" font-size="5.3" fill="#d8b420" text-anchor="middle" textLength="9.4" lengthAdjust="spacingAndGlyphs" >IE-A</text>
<rect x="308.60" y="473.20" width="32.00" height="14.80" fill="#db8d16" />
<text x="324.60" y="482.50" font-size="5.4" fill="#fadc60" text-anchor="middle" >PR</text>
<rect x="340.60" y="473.20" width="19.10" height="14.80" fill="#9f9fab" />
<rect x="359.70" y="473.20" width="19.10" height="14.80" fill="#9f9fab" />
<rect x="378.80" y="473.20" width="19.10" height="14.80" fill="#e0e0e2" />
<rect x="397.90" y="473.20" width="19.10" height="14.80" fill="#9f9fab" />
<rect x="417.00" y="473.20" width="19.10" height="14.80" fill="#e0e0e2" />
<rect x="436.10" y="473.20" width="19.10" height="14.80" fill="#9f9fab" />
<rect x="455.20" y="473.20" width="19.10" height="14.80" fill="#e0e0e2" />
<rect x="474.30" y="473.20" width="19.10" height="14.80" fill="#e0e0e2" />
<rect x="493.40" y="473.20" width="19.10" height="14.80" fill="#e0e0e2" />
<rect x="268.50" y="488.00" width="19.10" height="14.80" fill="#6aa9df" />
<text x="278.05" y="497.30" font-size="5.3" fill="#e6f2fc" text-anchor="middle" >14</text>
<rect x="287.60" y="488.00" width="21.00" height="14.80" fill="#5c3e1c" />
<text x="298.10" y="497.30" font-size="5.3" fill="#d8b420" text-anchor="middle" textLength="9.4" lengthAdjust="spacingAndGlyphs" >IE-A</text>
<rect x="308.60" y="488.00" width="32.00" height="14.80" fill="#db8d16" />
<text x="324.60" y="497.30" font-size="5.4" fill="#fadc60" text-anchor="middle" >PR</text>
<rect x="340.60" y="488.00" width="19.10" height="14.80" fill="#e0e0e2" />
<rect x="359.70" y="488.00" width="19.10" height="14.80" fill="#e0e0e2" />
<rect x="378.80" y="488.00" width="19.10" height="14.80" fill="#e0e0e2" />
<rect x="397.90" y="488.00" width="19.10" height="14.80" fill="#e0e0e2" />
<rect x="417.00" y="488.00" width="19.10" height="14.80" fill="#e0e0e2" />
<rect x="436.10" y="488.00" width="19.10" height="14.80" fill="#e0e0e2" />
<rect x="455.20" y="488.00" width="19.10" height="14.80" fill="#e0e0e2" />
<rect x="474.30" y="488.00" width="19.10" height="14.80" fill="#e0e0e2" />
<rect x="493.40" y="488.00" width="19.10" height="14.80" fill="#e0e0e2" />
<rect x="268.50" y="502.80" width="19.10" height="14.80" fill="#6aa9df" />
<text x="278.05" y="512.10" font-size="5.3" fill="#e6f2fc" text-anchor="middle" >17</text>
<rect x="287.60" y="502.80" width="21.00" height="14.80" fill="#030303" />
<text x="298.10" y="512.10" font-size="5.3" fill="#c8b420" text-anchor="middle" >IS</text>
<rect x="308.60" y="502.80" width="32.00" height="14.80" fill="#5c6b97" />
<text x="324.60" y="512.10" font-size="5.4" fill="#ecd460" text-anchor="middle" >SD</text>
<rect x="340.60" y="502.80" width="19.10" height="14.80" fill="#9f9fab" />
<rect x="359.70" y="502.80" width="19.10" height="14.80" fill="#e0e0e2" />
<rect x="378.80" y="502.80" width="19.10" height="14.80" fill="#e0e0e2" />
<rect x="397.90" y="502.80" width="19.10" height="14.80" fill="#e0e0e2" />
<rect x="417.00" y="502.80" width="19.10" height="14.80" fill="#9f9fab" />
<rect x="436.10" y="502.80" width="19.10" height="14.80" fill="#e0e0e2" />
<rect x="455.20" y="502.80" width="19.10" height="14.80" fill="#e0e0e2" />
<rect x="474.30" y="502.80" width="19.10" height="14.80" fill="#9f9fab" />
<rect x="493.40" y="502.80" width="19.10" height="14.80" fill="#e0e0e2" />
<rect x="268.50" y="517.60" width="19.10" height="14.80" fill="#6aa9df" />
<text x="278.05" y="526.90" font-size="5.3" fill="#e6f2fc" text-anchor="middle" >2</text>
<rect x="287.60" y="517.60" width="21.00" height="14.80" fill="#5c3e1c" />
<text x="298.10" y="526.90" font-size="5.3" fill="#d8b420" text-anchor="middle" textLength="9.4" lengthAdjust="spacingAndGlyphs" >IE-A</text>
<rect x="308.60" y="517.60" width="32.00" height="14.80" fill="#2d4b7e" />
<text x="324.60" y="526.90" font-size="5.4" fill="#e4cc40" text-anchor="middle" >PD</text>
<rect x="340.60" y="517.60" width="19.10" height="14.80" fill="#e0e0e2" />
<rect x="359.70" y="517.60" width="19.10" height="14.80" fill="#9f9fab" />
<rect x="378.80" y="517.60" width="19.10" height="14.80" fill="#9f9fab" />
<rect x="397.90" y="517.60" width="19.10" height="14.80" fill="#9f9fab" />
<rect x="417.00" y="517.60" width="19.10" height="14.80" fill="#9f9fab" />
<rect x="436.10" y="517.60" width="19.10" height="14.80" fill="#e0e0e2" />
<rect x="455.20" y="517.60" width="19.10" height="14.80" fill="#e0e0e2" />
<rect x="474.30" y="517.60" width="19.10" height="14.80" fill="#e0e0e2" />
<rect x="493.40" y="517.60" width="19.10" height="14.80" fill="#e0e0e2" />
<rect x="268.50" y="532.40" width="19.10" height="14.80" fill="#6aa9df" />
<text x="278.05" y="541.70" font-size="5.3" fill="#e6f2fc" text-anchor="middle" >4</text>
<rect x="287.60" y="532.40" width="21.00" height="14.80" fill="#5c3e1c" />
<text x="298.10" y="541.70" font-size="5.3" fill="#d8b420" text-anchor="middle" textLength="9.4" lengthAdjust="spacingAndGlyphs" >IE-A</text>
<rect x="308.60" y="532.40" width="32.00" height="14.80" fill="#2d4b7e" />
<text x="324.60" y="541.70" font-size="5.4" fill="#e4cc40" text-anchor="middle" >PD</text>
<rect x="340.60" y="532.40" width="19.10" height="14.80" fill="#e0e0e2" />
<rect x="359.70" y="532.40" width="19.10" height="14.80" fill="#e0e0e2" />
<rect x="378.80" y="532.40" width="19.10" height="14.80" fill="#9f9fab" />
<rect x="397.90" y="532.40" width="19.10" height="14.80" fill="#9f9fab" />
<rect x="417.00" y="532.40" width="19.10" height="14.80" fill="#e0e0e2" />
<rect x="436.10" y="532.40" width="19.10" height="14.80" fill="#9f9fab" />
<rect x="455.20" y="532.40" width="19.10" height="14.80" fill="#e0e0e2" />
<rect x="474.30" y="532.40" width="19.10" height="14.80" fill="#e0e0e2" />
<rect x="493.40" y="532.40" width="19.10" height="14.80" fill="#e0e0e2" />
<rect x="268.50" y="547.20" width="19.10" height="14.80" fill="#6aa9df" />
<text x="278.05" y="556.50" font-size="5.3" fill="#e6f2fc" text-anchor="middle" >21</text>
<rect x="287.60" y="547.20" width="21.00" height="14.80" fill="#5c3e1c" />
<text x="298.10" y="556.50" font-size="5.3" fill="#d8b420" text-anchor="middle" textLength="9.4" lengthAdjust="spacingAndGlyphs" >IE-A</text>
<rect x="308.60" y="547.20" width="32.00" height="14.80" fill="#2d4b7e" />
<text x="324.60" y="556.50" font-size="5.4" fill="#e4cc40" text-anchor="middle" >PD</text>
<rect x="340.60" y="547.20" width="19.10" height="14.80" fill="#e0e0e2" />
<rect x="359.70" y="547.20" width="19.10" height="14.80" fill="#9f9fab" />
<rect x="378.80" y="547.20" width="19.10" height="14.80" fill="#e0e0e2" />
<rect x="397.90" y="547.20" width="19.10" height="14.80" fill="#9f9fab" />
<rect x="417.00" y="547.20" width="19.10" height="14.80" fill="#e0e0e2" />
<rect x="436.10" y="547.20" width="19.10" height="14.80" fill="#9f9fab" />
<rect x="455.20" y="547.20" width="19.10" height="14.80" fill="#9f9fab" />
<rect x="474.30" y="547.20" width="19.10" height="14.80" fill="#e0e0e2" />
<rect x="493.40" y="547.20" width="19.10" height="14.80" fill="#e0e0e2" />
<rect x="268.50" y="562.00" width="19.10" height="14.80" fill="#6aa9df" />
<text x="278.05" y="571.30" font-size="5.3" fill="#e6f2fc" text-anchor="middle" >7</text>
<rect x="287.60" y="562.00" width="21.00" height="14.80" fill="#9d9dab" />
<text x="298.10" y="571.30" font-size="5.3" fill="#e4d670" text-anchor="middle" textLength="9.4" lengthAdjust="spacingAndGlyphs" >IE-B</text>
<rect x="308.60" y="562.00" width="32.00" height="14.80" fill="#2d4b7e" />
<text x="324.60" y="571.30" font-size="5.4" fill="#e4cc40" text-anchor="middle" >PD</text>
<rect x="340.60" y="562.00" width="19.10" height="14.80" fill="#9f9fab" />
<rect x="359.70" y="562.00" width="19.10" height="14.80" fill="#e0e0e2" />
<rect x="378.80" y="562.00" width="19.10" height="14.80" fill="#9f9fab" />
<rect x="397.90" y="562.00" width="19.10" height="14.80" fill="#e0e0e2" />
<rect x="417.00" y="562.00" width="19.10" height="14.80" fill="#e0e0e2" />
<rect x="436.10" y="562.00" width="19.10" height="14.80" fill="#9f9fab" />
<rect x="455.20" y="562.00" width="19.10" height="14.80" fill="#e0e0e2" />
<rect x="474.30" y="562.00" width="19.10" height="14.80" fill="#e0e0e2" />
<rect x="493.40" y="562.00" width="19.10" height="14.80" fill="#e0e0e2" />
<rect x="268.50" y="576.80" width="19.10" height="14.80" fill="#6aa9df" />
<text x="278.05" y="586.10" font-size="5.3" fill="#e6f2fc" text-anchor="middle" >9</text>
<rect x="287.60" y="576.80" width="21.00" height="14.80" fill="#9d9dab" />
<text x="298.10" y="586.10" font-size="5.3" fill="#e4d670" text-anchor="middle" textLength="9.4" lengthAdjust="spacingAndGlyphs" >IE-B</text>
<rect x="308.60" y="576.80" width="32.00" height="14.80" fill="#2d4b7e" />
<text x="324.60" y="586.10" font-size="5.4" fill="#e4cc40" text-anchor="middle" >PD</text>
<rect x="340.60" y="576.80" width="19.10" height="14.80" fill="#e0e0e2" />
<rect x="359.70" y="576.80" width="19.10" height="14.80" fill="#9f9fab" />
<rect x="378.80" y="576.80" width="19.10" height="14.80" fill="#e0e0e2" />
<rect x="397.90" y="576.80" width="19.10" height="14.80" fill="#9f9fab" />
<rect x="417.00" y="576.80" width="19.10" height="14.80" fill="#e0e0e2" />
<rect x="436.10" y="576.80" width="19.10" height="14.80" fill="#e0e0e2" />
<rect x="455.20" y="576.80" width="19.10" height="14.80" fill="#e0e0e2" />
<rect x="474.30" y="576.80" width="19.10" height="14.80" fill="#9f9fab" />
<rect x="493.40" y="576.80" width="19.10" height="14.80" fill="#9f9fab" />
<rect x="268.50" y="591.60" width="19.10" height="14.80" fill="#6aa9df" />
<text x="278.05" y="600.90" font-size="5.3" fill="#e6f2fc" text-anchor="middle" >13</text>
<rect x="287.60" y="591.60" width="21.00" height="14.80" fill="#9d9dab" />
<text x="298.10" y="600.90" font-size="5.3" fill="#e4d670" text-anchor="middle" textLength="9.4" lengthAdjust="spacingAndGlyphs" >IE-B</text>
<rect x="308.60" y="591.60" width="32.00" height="14.80" fill="#2d4b7e" />
<text x="324.60" y="600.90" font-size="5.4" fill="#e4cc40" text-anchor="middle" >PD</text>
<rect x="340.60" y="591.60" width="19.10" height="14.80" fill="#e0e0e2" />
<rect x="359.70" y="591.60" width="19.10" height="14.80" fill="#e0e0e2" />
<rect x="378.80" y="591.60" width="19.10" height="14.80" fill="#9f9fab" />
<rect x="397.90" y="591.60" width="19.10" height="14.80" fill="#e0e0e2" />
<rect x="417.00" y="591.60" width="19.10" height="14.80" fill="#e0e0e2" />
<rect x="436.10" y="591.60" width="19.10" height="14.80" fill="#9f9fab" />
<rect x="455.20" y="591.60" width="19.10" height="14.80" fill="#e0e0e2" />
<rect x="474.30" y="591.60" width="19.10" height="14.80" fill="#e0e0e2" />
<rect x="493.40" y="591.60" width="19.10" height="14.80" fill="#9f9fab" />
<rect x="268.50" y="606.40" width="19.10" height="14.80" fill="#6aa9df" />
<text x="278.05" y="615.70" font-size="5.3" fill="#e6f2fc" text-anchor="middle" >18</text>
<rect x="287.60" y="606.40" width="21.00" height="14.80" fill="#9d9dab" />
<text x="298.10" y="615.70" font-size="5.3" fill="#e4d670" text-anchor="middle" textLength="9.4" lengthAdjust="spacingAndGlyphs" >IE-B</text>
<rect x="308.60" y="606.40" width="32.00" height="14.80" fill="#2d4b7e" />
<text x="324.60" y="615.70" font-size="5.4" fill="#e4cc40" text-anchor="middle" >PD</text>
<rect x="340.60" y="606.40" width="19.10" height="14.80" fill="#e0e0e2" />
<rect x="359.70" y="606.40" width="19.10" height="14.80" fill="#e0e0e2" />
<rect x="378.80" y="606.40" width="19.10" height="14.80" fill="#e0e0e2" />
<rect x="397.90" y="606.40" width="19.10" height="14.80" fill="#e0e0e2" />
<rect x="417.00" y="606.40" width="19.10" height="14.80" fill="#e0e0e2" />
<rect x="436.10" y="606.40" width="19.10" height="14.80" fill="#e0e0e2" />
<rect x="455.20" y="606.40" width="19.10" height="14.80" fill="#9f9fab" />
<rect x="474.30" y="606.40" width="19.10" height="14.80" fill="#e0e0e2" />
<rect x="493.40" y="606.40" width="19.10" height="14.80" fill="#e0e0e2" />
<rect x="268.50" y="621.20" width="19.10" height="14.80" fill="#6aa9df" />
<text x="278.05" y="630.50" font-size="5.3" fill="#e6f2fc" text-anchor="middle" >20</text>
<rect x="287.60" y="621.20" width="21.00" height="14.80" fill="#9d9dab" />
<text x="298.10" y="630.50" font-size="5.3" fill="#e4d670" text-anchor="middle" textLength="9.4" lengthAdjust="spacingAndGlyphs" >IE-B</text>
<rect x="308.60" y="621.20" width="32.00" height="14.80" fill="#2d4b7e" />
<text x="324.60" y="630.50" font-size="5.4" fill="#e4cc40" text-anchor="middle" >PD</text>
<rect x="340.60" y="621.20" width="19.10" height="14.80" fill="#9f9fab" />
<rect x="359.70" y="621.20" width="19.10" height="14.80" fill="#9f9fab" />
<rect x="378.80" y="621.20" width="19.10" height="14.80" fill="#e0e0e2" />
<rect x="397.90" y="621.20" width="19.10" height="14.80" fill="#9f9fab" />
<rect x="417.00" y="621.20" width="19.10" height="14.80" fill="#9f9fab" />
<rect x="436.10" y="621.20" width="19.10" height="14.80" fill="#9f9fab" />
<rect x="455.20" y="621.20" width="19.10" height="14.80" fill="#9f9fab" />
<rect x="474.30" y="621.20" width="19.10" height="14.80" fill="#9f9fab" />
<rect x="493.40" y="621.20" width="19.10" height="14.80" fill="#9f9fab" />
<rect x="268.50" y="636.00" width="19.10" height="14.80" fill="#6aa9df" />
<text x="278.05" y="645.30" font-size="5.3" fill="#e6f2fc" text-anchor="middle" >5</text>
<rect x="287.60" y="636.00" width="21.00" height="14.80" fill="#030303" />
<text x="298.10" y="645.30" font-size="5.3" fill="#c8b420" text-anchor="middle" >IS</text>
<rect x="308.60" y="636.00" width="32.00" height="14.80" fill="#2d4b7e" />
<text x="324.60" y="645.30" font-size="5.4" fill="#e4cc40" text-anchor="middle" >PD</text>
<rect x="340.60" y="636.00" width="19.10" height="14.80" fill="#9f9fab" />
<rect x="359.70" y="636.00" width="19.10" height="14.80" fill="#9f9fab" />
<rect x="378.80" y="636.00" width="19.10" height="14.80" fill="#9f9fab" />
<rect x="397.90" y="636.00" width="19.10" height="14.80" fill="#9f9fab" />
<rect x="417.00" y="636.00" width="19.10" height="14.80" fill="#e0e0e2" />
<rect x="436.10" y="636.00" width="19.10" height="14.80" fill="#9f9fab" />
<rect x="455.20" y="636.00" width="19.10" height="14.80" fill="#9f9fab" />
<rect x="474.30" y="636.00" width="19.10" height="14.80" fill="#9f9fab" />
<rect x="493.40" y="636.00" width="19.10" height="14.80" fill="#9f9fab" />
<rect x="268.50" y="650.80" width="19.10" height="14.80" fill="#6aa9df" />
<text x="278.05" y="660.10" font-size="5.3" fill="#e6f2fc" text-anchor="middle" >10</text>
<rect x="287.60" y="650.80" width="21.00" height="14.80" fill="#030303" />
<text x="298.10" y="660.10" font-size="5.3" fill="#c8b420" text-anchor="middle" >IS</text>
<rect x="308.60" y="650.80" width="32.00" height="14.80" fill="#2d4b7e" />
<text x="324.60" y="660.10" font-size="5.4" fill="#e4cc40" text-anchor="middle" >PD</text>
<rect x="340.60" y="650.80" width="19.10" height="14.80" fill="#e0e0e2" />
<rect x="359.70" y="650.80" width="19.10" height="14.80" fill="#9f9fab" />
<rect x="378.80" y="650.80" width="19.10" height="14.80" fill="#e0e0e2" />
<rect x="397.90" y="650.80" width="19.10" height="14.80" fill="#9f9fab" />
<rect x="417.00" y="650.80" width="19.10" height="14.80" fill="#e0e0e2" />
<rect x="436.10" y="650.80" width="19.10" height="14.80" fill="#e0e0e2" />
<rect x="455.20" y="650.80" width="19.10" height="14.80" fill="#9f9fab" />
<rect x="474.30" y="650.80" width="19.10" height="14.80" fill="#e0e0e2" />
<rect x="493.40" y="650.80" width="19.10" height="14.80" fill="#9f9fab" />
<rect x="268.50" y="665.60" width="19.10" height="14.80" fill="#6aa9df" />
<text x="278.05" y="674.90" font-size="5.3" fill="#e6f2fc" text-anchor="middle" >15</text>
<rect x="287.60" y="665.60" width="21.00" height="14.80" fill="#030303" />
<text x="298.10" y="674.90" font-size="5.3" fill="#c8b420" text-anchor="middle" >IS</text>
<rect x="308.60" y="665.60" width="32.00" height="14.80" fill="#2d4b7e" />
<text x="324.60" y="674.90" font-size="5.4" fill="#e4cc40" text-anchor="middle" >PD</text>
<rect x="340.60" y="665.60" width="19.10" height="14.80" fill="#9f9fab" />
<rect x="359.70" y="665.60" width="19.10" height="14.80" fill="#9f9fab" />
<rect x="378.80" y="665.60" width="19.10" height="14.80" fill="#9f9fab" />
<rect x="397.90" y="665.60" width="19.10" height="14.80" fill="#9f9fab" />
<rect x="417.00" y="665.60" width="19.10" height="14.80" fill="#e0e0e2" />
<rect x="436.10" y="665.60" width="19.10" height="14.80" fill="#9f9fab" />
<rect x="455.20" y="665.60" width="19.10" height="14.80" fill="#9f9fab" />
<rect x="474.30" y="665.60" width="19.10" height="14.80" fill="#9f9fab" />
<rect x="493.40" y="665.60" width="19.10" height="14.80" fill="#9f9fab" />
<rect x="268.50" y="680.40" width="19.10" height="14.80" fill="#6aa9df" />
<text x="278.05" y="689.70" font-size="5.3" fill="#e6f2fc" text-anchor="middle" >19</text>
<rect x="287.60" y="680.40" width="21.00" height="14.80" fill="#030303" />
<text x="298.10" y="689.70" font-size="5.3" fill="#c8b420" text-anchor="middle" >IS</text>
<rect x="308.60" y="680.40" width="32.00" height="14.80" fill="#2d4b7e" />
<text x="324.60" y="689.70" font-size="5.4" fill="#e4cc40" text-anchor="middle" >PD</text>
<rect x="340.60" y="680.40" width="19.10" height="14.80" fill="#9f9fab" />
<rect x="359.70" y="680.40" width="19.10" height="14.80" fill="#e0e0e2" />
<rect x="378.80" y="680.40" width="19.10" height="14.80" fill="#e0e0e2" />
<rect x="397.90" y="680.40" width="19.10" height="14.80" fill="#e0e0e2" />
<rect x="417.00" y="680.40" width="19.10" height="14.80" fill="#e0e0e2" />
<rect x="436.10" y="680.40" width="19.10" height="14.80" fill="#e0e0e2" />
<rect x="455.20" y="680.40" width="19.10" height="14.80" fill="#9f9fab" />
<rect x="474.30" y="680.40" width="19.10" height="14.80" fill="#e0e0e2" />
<rect x="493.40" y="680.40" width="19.10" height="14.80" fill="#e0e0e2" />
<line x1="268.50" y1="384.40" x2="268.50" y2="695.20" stroke="rgba(180,112,45,0.75)" stroke-width="0.9" />
<line x1="287.60" y1="384.40" x2="287.60" y2="695.20" stroke="rgba(180,112,45,0.75)" stroke-width="0.9" />
<line x1="308.60" y1="384.40" x2="308.60" y2="695.20" stroke="rgba(180,112,45,0.75)" stroke-width="0.9" />
<line x1="340.60" y1="384.40" x2="340.60" y2="695.20" stroke="rgba(180,112,45,0.75)" stroke-width="0.9" />
<line x1="359.70" y1="384.40" x2="359.70" y2="695.20" stroke="rgba(180,112,45,0.75)" stroke-width="0.9" />
<line x1="378.80" y1="384.40" x2="378.80" y2="695.20" stroke="rgba(180,112,45,0.75)" stroke-width="0.9" />
<line x1="397.90" y1="384.40" x2="397.90" y2="695.20" stroke="rgba(180,112,45,0.75)" stroke-width="0.9" />
<line x1="417.00" y1="384.40" x2="417.00" y2="695.20" stroke="rgba(180,112,45,0.75)" stroke-width="0.9" />
<line x1="436.10" y1="384.40" x2="436.10" y2="695.20" stroke="rgba(180,112,45,0.75)" stroke-width="0.9" />
<line x1="455.20" y1="384.40" x2="455.20" y2="695.20" stroke="rgba(180,112,45,0.75)" stroke-width="0.9" />
<line x1="474.30" y1="384.40" x2="474.30" y2="695.20" stroke="rgba(180,112,45,0.75)" stroke-width="0.9" />
<line x1="493.40" y1="384.40" x2="493.40" y2="695.20" stroke="rgba(180,112,45,0.75)" stroke-width="0.9" />
<line x1="512.50" y1="384.40" x2="512.50" y2="695.20" stroke="rgba(180,112,45,0.75)" stroke-width="0.9" />
<line x1="268.50" y1="384.40" x2="512.50" y2="384.40" stroke="rgba(180,112,45,0.75)" stroke-width="0.9" />
<line x1="268.50" y1="399.20" x2="512.50" y2="399.20" stroke="rgba(180,112,45,0.75)" stroke-width="0.9" />
<line x1="268.50" y1="414.00" x2="512.50" y2="414.00" stroke="rgba(180,112,45,0.75)" stroke-width="0.9" />
<line x1="268.50" y1="428.80" x2="512.50" y2="428.80" stroke="rgba(180,112,45,0.75)" stroke-width="0.9" />
<line x1="268.50" y1="443.60" x2="512.50" y2="443.60" stroke="rgba(180,112,45,0.75)" stroke-width="0.9" />
<line x1="268.50" y1="458.40" x2="512.50" y2="458.40" stroke="rgba(180,112,45,0.75)" stroke-width="0.9" />
<line x1="268.50" y1="473.20" x2="512.50" y2="473.20" stroke="rgba(180,112,45,0.75)" stroke-width="0.9" />
<line x1="268.50" y1="488.00" x2="512.50" y2="488.00" stroke="rgba(180,112,45,0.75)" stroke-width="0.9" />
<line x1="268.50" y1="502.80" x2="512.50" y2="502.80" stroke="rgba(180,112,45,0.75)" stroke-width="0.9" />
<line x1="268.50" y1="517.60" x2="512.50" y2="517.60" stroke="rgba(180,112,45,0.75)" stroke-width="0.9" />
<line x1="268.50" y1="532.40" x2="512.50" y2="532.40" stroke="rgba(180,112,45,0.75)" stroke-width="0.9" />
<line x1="268.50" y1="547.20" x2="512.50" y2="547.20" stroke="rgba(180,112,45,0.75)" stroke-width="0.9" />
<line x1="268.50" y1="562.00" x2="512.50" y2="562.00" stroke="rgba(180,112,45,0.75)" stroke-width="0.9" />
<line x1="268.50" y1="576.80" x2="512.50" y2="576.80" stroke="rgba(180,112,45,0.75)" stroke-width="0.9" />
<line x1="268.50" y1="591.60" x2="512.50" y2="591.60" stroke="rgba(180,112,45,0.75)" stroke-width="0.9" />
<line x1="268.50" y1="606.40" x2="512.50" y2="606.40" stroke="rgba(180,112,45,0.75)" stroke-width="0.9" />
<line x1="268.50" y1="621.20" x2="512.50" y2="621.20" stroke="rgba(180,112,45,0.75)" stroke-width="0.9" />
<line x1="268.50" y1="636.00" x2="512.50" y2="636.00" stroke="rgba(180,112,45,0.75)" stroke-width="0.9" />
<line x1="268.50" y1="650.80" x2="512.50" y2="650.80" stroke="rgba(180,112,45,0.75)" stroke-width="0.9" />
<line x1="268.50" y1="665.60" x2="512.50" y2="665.60" stroke="rgba(180,112,45,0.75)" stroke-width="0.9" />
<line x1="268.50" y1="680.40" x2="512.50" y2="680.40" stroke="rgba(180,112,45,0.75)" stroke-width="0.9" />
<line x1="268.50" y1="695.20" x2="512.50" y2="695.20" stroke="rgba(180,112,45,0.75)" stroke-width="0.9" />
<text x="278.05" y="378.30" font-size="5.3" fill="#4a4a4a" text-anchor="middle" textLength="6.6" lengthAdjust="spacingAndGlyphs" >No</text>
<text x="298.10" y="374.50" font-size="5.0" fill="#4a4a4a" text-anchor="middle" textLength="9.2" lengthAdjust="spacingAndGlyphs" >Sub-</text>
<text x="298.30" y="380.20" font-size="5.0" fill="#4a4a4a" text-anchor="middle" textLength="9.6" lengthAdjust="spacingAndGlyphs" >type</text>
<text x="324.80" y="378.30" font-size="5.0" fill="#4a4a4a" text-anchor="middle" textLength="21.4" lengthAdjust="spacingAndGlyphs" >Response</text>
<text x="350.15" y="377.60" font-size="5.0" fill="#4a4a4a" text-anchor="middle" textLength="12.2" lengthAdjust="spacingAndGlyphs" >IFN-α</text>
<text x="369.25" y="377.60" font-size="5.0" fill="#4a4a4a" text-anchor="middle" textLength="11.7" lengthAdjust="spacingAndGlyphs" >IFN-γ</text>
<text x="388.35" y="377.60" font-size="5.0" fill="#4a4a4a" text-anchor="middle" textLength="11.7" lengthAdjust="spacingAndGlyphs" >IL-1α</text>
<text x="407.45" y="377.60" font-size="5.0" fill="#4a4a4a" text-anchor="middle" textLength="10.4" lengthAdjust="spacingAndGlyphs" >IL-18</text>
<text x="426.55" y="377.60" font-size="5.0" fill="#4a4a4a" text-anchor="middle" textLength="7.5" lengthAdjust="spacingAndGlyphs" >IL-7</text>
<text x="445.65" y="377.60" font-size="5.0" fill="#4a4a4a" text-anchor="middle" textLength="11.0" lengthAdjust="spacingAndGlyphs" >IP-10</text>
<text x="464.75" y="377.60" font-size="5.0" fill="#4a4a4a" text-anchor="middle" textLength="15.0" lengthAdjust="spacingAndGlyphs" >MCP-1</text>
<text x="483.85" y="377.60" font-size="5.0" fill="#4a4a4a" text-anchor="middle" textLength="16.6" lengthAdjust="spacingAndGlyphs" >MIP-1α</text>
<text x="502.95" y="377.60" font-size="5.0" fill="#4a4a4a" text-anchor="middle" textLength="16.0" lengthAdjust="spacingAndGlyphs" >MIP-1β</text>
<rect x="340.80" y="707.20" width="19.00" height="10.40" fill="#7a7e8a" stroke="#c08a5a" stroke-width="0.9"/>
<text x="362.80" y="714.80" font-size="7.0" fill="#222" text-anchor="start" stroke="#222" stroke-width="0.15" textLength="14.2" lengthAdjust="spacingAndGlyphs" >High</text>
<rect x="417.20" y="707.20" width="19.00" height="10.40" fill="#e0e0e2" stroke="#c08a5a" stroke-width="0.9"/>
<text x="439.20" y="714.80" font-size="7.0" fill="#222" text-anchor="start" stroke="#222" stroke-width="0.15" textLength="12.6" lengthAdjust="spacingAndGlyphs" >Low</text>
<rect x="0.5" y="0.5" width="519" height="724" fill="none" stroke="#000" stroke-width="1.2"/>
</svg></div></body></html>
